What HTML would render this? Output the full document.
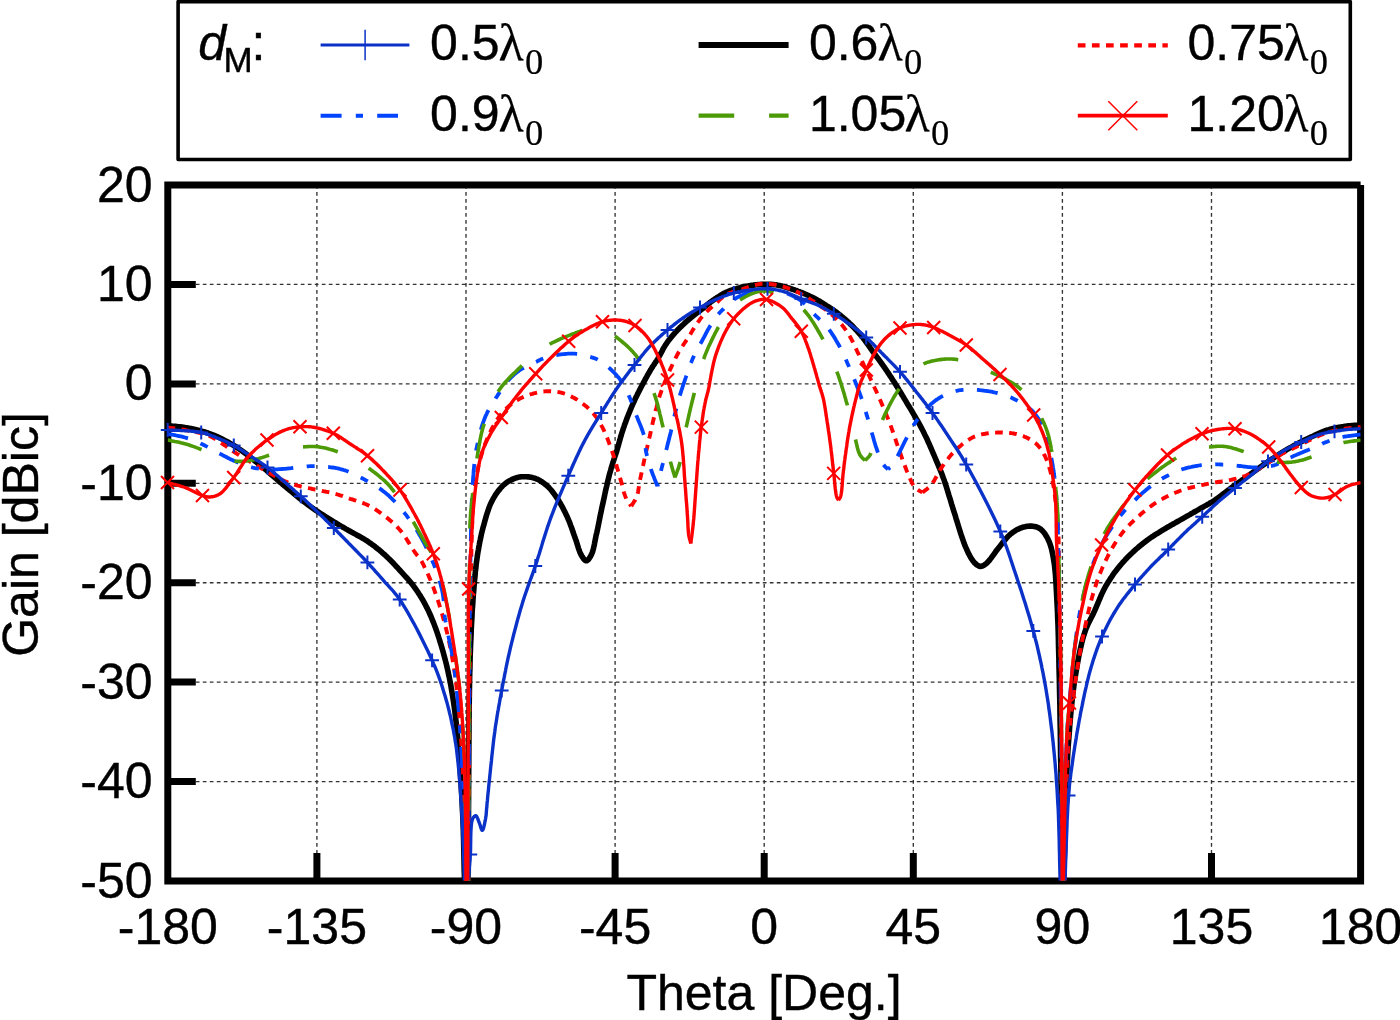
<!DOCTYPE html>
<html><head><meta charset="utf-8"><title>Gain vs Theta</title>
<style>html,body{margin:0;padding:0;background:#fff;}body{width:1400px;height:1020px;overflow:hidden;}svg{display:block;}text{font-family:"Liberation Sans",sans-serif;fill:#000;stroke:#000;stroke-width:0.4px;}.sym{font-family:"Liberation Serif",serif;stroke-width:0.2px;}</style></head><body>
<svg width="1400" height="1020" viewBox="0 0 1400 1020">
<rect x="0" y="0" width="1400" height="1020" fill="#ffffff"/>
<defs><clipPath id="pc"><rect x="167.8" y="185.0" width="1192.8" height="699.3"/></clipPath></defs>
<path d="M316.9 185.0 V881.0 M466.0 185.0 V881.0 M615.1 185.0 V881.0 M764.2 185.0 V881.0 M913.3 185.0 V881.0 M1062.4 185.0 V881.0 M1211.5 185.0 V881.0 M167.8 284.4 H1360.6 M167.8 383.9 H1360.6 M167.8 483.3 H1360.6 M167.8 582.7 H1360.6 M167.8 682.1 H1360.6 M167.8 781.6 H1360.6" fill="none" stroke="#333" stroke-width="1.35" stroke-dasharray="3.7 3.3"/>
<path d="M1360.6 185.0 H167.8 V881.0 H1360.6 V185.0" fill="none" stroke="#000" stroke-width="7" stroke-linejoin="miter" stroke-linecap="butt"/>
<path d="M316.9 881.0 V853.0 M466.0 881.0 V853.0 M615.1 881.0 V853.0 M764.2 881.0 V853.0 M913.3 881.0 V853.0 M1062.4 881.0 V853.0 M1211.5 881.0 V853.0 M167.8 284.4 H195.8 M167.8 383.9 H195.8 M167.8 483.3 H195.8 M167.8 582.7 H195.8 M167.8 682.1 H195.8 M167.8 781.6 H195.8" fill="none" stroke="#000" stroke-width="7"/>
<g clip-path="url(#pc)" fill="none" stroke-linejoin="round">
<path d="M167.5 425.8 L168.9 425.9 L170.4 426.0 L171.8 426.1 L173.2 426.2 L174.6 426.3 L176.1 426.4 L177.5 426.6 L179.0 426.7 L180.4 426.8 L181.9 427.0 L183.4 427.2 L185.0 427.5 L186.9 427.8 L188.9 428.2 L191.0 428.6 L193.1 429.0 L195.2 429.5 L197.3 430.0 L199.4 430.5 L201.6 431.1 L203.7 431.7 L205.8 432.3 L207.9 433.0 L210.0 433.8 L212.1 434.6 L214.2 435.4 L216.4 436.3 L218.5 437.3 L220.6 438.3 L222.6 439.3 L224.7 440.4 L226.8 441.5 L228.9 442.6 L230.9 443.8 L233.0 445.0 L235.0 446.2 L237.1 447.6 L239.3 449.0 L241.4 450.5 L243.5 452.0 L245.6 453.6 L247.6 455.1 L249.7 456.8 L251.8 458.4 L253.8 460.0 L255.9 461.7 L257.9 463.4 L260.0 465.0 L262.1 466.7 L264.2 468.4 L266.3 470.2 L268.4 472.0 L270.4 473.8 L272.5 475.6 L274.6 477.4 L276.7 479.2 L278.7 481.0 L280.8 482.7 L282.9 484.5 L285.0 486.2 L287.1 488.0 L289.1 489.7 L291.2 491.4 L293.3 493.1 L295.3 494.8 L297.4 496.5 L299.5 498.2 L301.6 499.9 L303.7 501.5 L305.8 503.1 L307.9 504.7 L310.0 506.2 L312.1 507.7 L314.2 509.2 L316.3 510.7 L318.5 512.1 L320.7 513.5 L322.8 514.9 L325.0 516.3 L327.1 517.6 L329.2 518.9 L331.2 520.1 L333.1 521.3 L335.0 522.5 L336.4 523.3 L337.7 524.1 L339.0 524.9 L340.2 525.6 L341.4 526.3 L342.6 527.0 L343.8 527.7 L345.0 528.4 L346.2 529.1 L347.5 529.8 L348.7 530.5 L350.0 531.2 L351.4 532.1 L352.8 532.8 L354.3 533.6 L355.8 534.4 L357.2 535.2 L358.7 536.0 L360.2 536.8 L361.7 537.7 L363.2 538.5 L364.6 539.4 L366.1 540.3 L367.5 541.2 L369.0 542.3 L370.5 543.3 L372.0 544.4 L373.5 545.5 L375.0 546.6 L376.4 547.8 L377.9 549.0 L379.4 550.1 L380.8 551.3 L382.2 552.6 L383.6 553.8 L385.0 555.0 L386.3 556.2 L387.6 557.5 L388.9 558.7 L390.2 560.0 L391.4 561.2 L392.7 562.5 L393.9 563.8 L395.1 565.2 L396.3 566.5 L397.6 567.8 L398.8 569.2 L400.0 570.5 L401.3 571.9 L402.6 573.3 L403.8 574.7 L405.1 576.1 L406.4 577.5 L407.7 578.9 L408.9 580.3 L410.2 581.8 L411.4 583.3 L412.6 584.8 L413.8 586.4 L415.0 588.0 L416.3 589.8 L417.5 591.6 L418.7 593.5 L419.9 595.3 L421.1 597.3 L422.3 599.2 L423.4 601.2 L424.5 603.2 L425.6 605.3 L426.7 607.4 L427.8 609.6 L428.9 611.8 L430.1 614.5 L431.3 617.2 L432.4 620.0 L433.6 622.9 L434.7 625.9 L435.8 628.8 L436.9 631.9 L437.9 634.9 L438.9 638.0 L439.9 641.2 L440.9 644.3 L441.8 647.4 L442.8 650.7 L443.7 654.1 L444.6 657.5 L445.5 660.9 L446.4 664.4 L447.2 667.9 L448.0 671.4 L448.7 674.9 L449.5 678.5 L450.2 682.1 L450.9 685.8 L451.5 689.5 L452.2 693.6 L452.9 697.7 L453.5 701.8 L454.1 705.9 L454.7 710.1 L455.2 714.3 L455.7 718.6 L456.2 723.0 L456.6 727.4 L457.1 732.0 L457.6 736.6 L458.0 741.3 L458.5 747.2 L459.0 753.4 L459.5 759.8 L460.0 766.3 L460.4 773.0 L460.8 779.7 L461.2 786.4 L461.6 793.1 L462.0 799.8 L462.3 806.3 L462.6 812.8 L462.9 819.0 L463.1 824.3 L463.3 829.6 L463.4 834.8 L463.6 840.0 L463.7 845.1 L463.8 850.2 L463.9 855.2 L464.0 860.2 L464.1 865.3 L464.2 870.3 L464.4 875.4 L464.5 880.5" stroke="#000000" stroke-width="5.6"/>
<path d="M468.2 881.0 L468.3 864.3 L468.4 846.9 L468.5 829.2 L468.5 811.2 L468.6 793.2 L468.7 775.5 L468.8 758.1 L468.9 741.4 L469.0 725.5 L469.1 710.7 L469.3 697.1 L469.5 685.0 L469.6 679.2 L469.7 673.8 L469.9 668.7 L470.0 663.8 L470.1 659.2 L470.2 654.8 L470.4 650.6 L470.5 646.4 L470.7 642.3 L470.9 638.3 L471.1 634.2 L471.2 630.0 L471.4 626.4 L471.6 622.9 L471.8 619.5 L472.0 616.1 L472.1 612.7 L472.3 609.4 L472.6 606.1 L472.8 602.9 L473.0 599.7 L473.2 596.4 L473.5 593.2 L473.8 590.0 L474.0 587.0 L474.3 584.0 L474.5 581.0 L474.8 578.0 L475.1 575.1 L475.3 572.2 L475.7 569.3 L476.0 566.4 L476.3 563.5 L476.7 560.6 L477.1 557.8 L477.5 555.0 L477.9 552.4 L478.4 549.8 L478.8 547.2 L479.3 544.7 L479.7 542.2 L480.3 539.6 L480.8 537.1 L481.3 534.7 L481.9 532.2 L482.5 529.8 L483.1 527.4 L483.8 525.0 L484.4 522.8 L485.0 520.6 L485.6 518.4 L486.2 516.2 L486.9 514.0 L487.6 511.9 L488.3 509.8 L489.0 507.7 L489.8 505.7 L490.7 503.7 L491.6 501.8 L492.5 500.0 L493.4 498.4 L494.3 496.9 L495.2 495.3 L496.2 493.8 L497.2 492.4 L498.3 490.9 L499.4 489.6 L500.5 488.3 L501.6 487.0 L502.7 485.8 L503.8 484.8 L505.0 483.8 L506.0 483.0 L507.0 482.3 L508.0 481.6 L509.1 481.0 L510.2 480.4 L511.2 479.9 L512.3 479.4 L513.4 478.9 L514.4 478.5 L515.5 478.1 L516.5 477.8 L517.5 477.5 L518.3 477.3 L519.0 477.1 L519.7 477.0 L520.5 476.9 L521.2 476.8 L521.9 476.7 L522.6 476.7 L523.3 476.7 L524.1 476.7 L524.8 476.7 L525.5 476.7 L526.2 476.8 L527.1 476.8 L527.9 476.9 L528.7 476.9 L529.5 477.0 L530.4 477.2 L531.2 477.3 L532.1 477.5 L532.9 477.7 L533.8 477.9 L534.6 478.1 L535.4 478.4 L536.2 478.8 L537.2 479.2 L538.2 479.6 L539.1 480.1 L540.1 480.7 L541.1 481.3 L542.0 481.9 L543.0 482.6 L543.9 483.3 L544.8 484.0 L545.7 484.7 L546.6 485.5 L547.5 486.2 L548.4 487.1 L549.3 488.0 L550.2 489.0 L551.1 490.0 L551.9 491.0 L552.7 492.0 L553.5 493.1 L554.3 494.2 L555.1 495.3 L555.9 496.4 L556.7 497.6 L557.5 498.8 L558.4 500.1 L559.3 501.6 L560.2 503.1 L561.0 504.6 L561.9 506.2 L562.8 507.8 L563.6 509.4 L564.4 511.0 L565.2 512.6 L566.0 514.3 L566.8 515.9 L567.5 517.5 L568.2 519.1 L568.9 520.8 L569.6 522.4 L570.2 524.1 L570.8 525.8 L571.5 527.5 L572.1 529.2 L572.7 530.9 L573.2 532.6 L573.8 534.2 L574.4 535.9 L575.0 537.5 L575.5 539.0 L576.1 540.6 L576.6 542.2 L577.1 543.8 L577.6 545.4 L578.1 547.0 L578.5 548.5 L579.1 550.0 L579.6 551.4 L580.1 552.7 L580.7 553.9 L581.2 555.0 L581.6 555.7 L582.0 556.3 L582.4 557.0 L582.9 557.7 L583.3 558.3 L583.7 558.9 L584.1 559.4 L584.6 559.8 L585.0 560.2 L585.4 560.5 L585.8 560.7 L586.2 560.8 L586.7 560.7 L587.1 560.5 L587.5 560.2 L588.0 559.9 L588.4 559.4 L588.8 558.9 L589.3 558.3 L589.7 557.7 L590.1 557.0 L590.5 556.4 L590.9 555.7 L591.2 555.0 L591.8 553.8 L592.3 552.5 L592.8 551.0 L593.2 549.5 L593.6 547.8 L594.0 546.1 L594.4 544.3 L594.7 542.5 L595.1 540.6 L595.5 538.7 L595.8 536.9 L596.2 535.0 L596.8 532.7 L597.3 530.4 L597.8 528.0 L598.3 525.5 L598.8 523.0 L599.3 520.5 L599.8 517.9 L600.3 515.3 L600.9 512.7 L601.4 510.1 L601.9 507.6 L602.5 505.0 L603.1 502.3 L603.7 499.6 L604.3 496.8 L604.9 494.0 L605.5 491.2 L606.1 488.4 L606.8 485.7 L607.4 482.9 L608.0 480.2 L608.7 477.6 L609.3 475.0 L610.0 472.5 L610.6 470.5 L611.1 468.5 L611.7 466.5 L612.3 464.6 L612.9 462.7 L613.5 460.8 L614.1 459.0 L614.7 457.2 L615.3 455.4 L615.9 453.6 L616.5 451.8 L617.0 450.0 L617.5 448.4 L617.9 446.8 L618.4 445.2 L618.8 443.7 L619.2 442.1 L619.7 440.6 L620.1 439.1 L620.5 437.5 L621.0 436.0 L621.4 434.5 L621.9 432.9 L622.4 431.4 L622.9 429.8 L623.4 428.3 L624.0 426.7 L624.5 425.1 L625.1 423.5 L625.7 421.9 L626.3 420.3 L626.8 418.8 L627.4 417.2 L628.0 415.7 L628.6 414.2 L629.2 412.7 L629.8 411.3 L630.3 410.0 L630.9 408.7 L631.4 407.3 L632.0 406.0 L632.6 404.7 L633.2 403.4 L633.8 402.1 L634.3 400.9 L634.9 399.6 L635.5 398.3 L636.1 397.1 L636.7 395.9 L637.2 394.8 L637.8 393.7 L638.3 392.6 L638.9 391.5 L639.4 390.4 L640.0 389.3 L640.6 388.2 L641.1 387.1 L641.7 386.0 L642.3 384.9 L642.9 383.8 L643.5 382.6 L644.2 381.4 L644.8 380.2 L645.5 379.0 L646.1 377.8 L646.8 376.6 L647.4 375.4 L648.1 374.2 L648.8 373.1 L649.5 371.9 L650.1 370.7 L650.8 369.6 L651.4 368.6 L652.1 367.5 L652.7 366.5 L653.4 365.5 L654.1 364.5 L654.7 363.5 L655.4 362.5 L656.0 361.5 L656.7 360.6 L657.3 359.5 L658.0 358.5 L658.6 357.5 L659.2 356.4 L659.8 355.3 L660.4 354.2 L661.0 353.1 L661.6 352.0 L662.2 350.9 L662.7 349.7 L663.3 348.6 L663.9 347.5 L664.6 346.4 L665.2 345.4 L665.9 344.3 L666.6 343.3 L667.3 342.2 L668.1 341.2 L668.8 340.2 L669.6 339.2 L670.4 338.2 L671.2 337.2 L672.0 336.3 L672.8 335.3 L673.6 334.4 L674.5 333.4 L675.3 332.5 L676.1 331.6 L676.9 330.7 L677.8 329.8 L678.6 329.0 L679.5 328.1 L680.3 327.3 L681.2 326.4 L682.1 325.6 L682.9 324.8 L683.8 324.0 L684.6 323.2 L685.5 322.4 L686.3 321.7 L687.1 321.0 L687.9 320.3 L688.7 319.6 L689.5 318.9 L690.2 318.3 L691.0 317.6 L691.8 317.0 L692.6 316.4 L693.4 315.7 L694.1 315.1 L694.9 314.5 L695.6 314.0 L696.2 313.4 L696.9 312.9 L697.6 312.4 L698.2 311.9 L698.9 311.4 L699.5 311.0 L700.1 310.5 L700.8 310.0 L701.4 309.5 L702.1 309.0 L702.7 308.5 L703.3 308.0 L703.9 307.5 L704.5 307.0 L705.1 306.5 L705.7 306.0 L706.3 305.5 L706.9 305.0 L707.5 304.5 L708.1 304.0 L708.8 303.5 L709.4 303.0 L710.0 302.5 L710.6 302.0 L711.3 301.5 L711.9 301.1 L712.6 300.6 L713.3 300.1 L713.9 299.7 L714.6 299.2 L715.3 298.8 L716.0 298.3 L716.6 297.9 L717.3 297.4 L718.0 297.0 L718.7 296.6 L719.3 296.2 L720.0 295.7 L720.6 295.3 L721.3 294.9 L722.0 294.5 L722.6 294.1 L723.3 293.7 L724.0 293.3 L724.8 292.9 L725.5 292.6 L726.3 292.2 L727.3 291.8 L728.4 291.3 L729.5 290.9 L730.6 290.5 L731.8 290.1 L733.0 289.7 L734.1 289.3 L735.3 288.9 L736.5 288.6 L737.7 288.2 L738.9 287.9 L740.0 287.6 L741.0 287.3 L742.0 287.1 L743.1 286.9 L744.1 286.6 L745.1 286.4 L746.1 286.2 L747.1 286.1 L748.1 285.9 L749.1 285.7 L750.1 285.6 L751.0 285.4 L752.0 285.3 L752.9 285.2 L753.7 285.1 L754.5 285.0 L755.3 284.9 L756.1 284.8 L757.0 284.7 L757.8 284.6 L758.6 284.6 L759.4 284.5 L760.3 284.5 L761.1 284.4 L762.0 284.4 L763.1 284.4 L764.2 284.3 L765.3 284.3 L766.4 284.3 L767.6 284.3 L768.8 284.3 L769.9 284.4 L771.1 284.4 L772.3 284.5 L773.4 284.5 L774.6 284.7 L775.7 284.8 L776.8 285.0 L777.9 285.2 L779.0 285.4 L780.1 285.6 L781.1 285.9 L782.2 286.1 L783.3 286.4 L784.3 286.7 L785.4 287.0 L786.5 287.4 L787.5 287.7 L788.6 288.0 L789.7 288.3 L790.7 288.7 L791.8 289.0 L792.9 289.4 L794.0 289.7 L795.0 290.1 L796.1 290.5 L797.2 290.9 L798.2 291.3 L799.3 291.7 L800.3 292.1 L801.4 292.5 L802.5 292.9 L803.6 293.4 L804.6 293.8 L805.7 294.3 L806.8 294.7 L807.9 295.2 L809.0 295.7 L810.0 296.2 L811.1 296.7 L812.2 297.2 L813.2 297.8 L814.3 298.3 L815.4 298.9 L816.5 299.5 L817.5 300.1 L818.6 300.7 L819.7 301.3 L820.7 302.0 L821.8 302.6 L822.9 303.3 L823.9 304.0 L825.0 304.6 L826.0 305.3 L827.1 306.0 L828.2 306.7 L829.3 307.4 L830.4 308.1 L831.4 308.8 L832.5 309.6 L833.6 310.3 L834.7 311.1 L835.8 311.8 L836.8 312.6 L837.9 313.4 L838.9 314.2 L840.0 315.0 L841.1 315.9 L842.2 316.8 L843.3 317.7 L844.4 318.7 L845.5 319.6 L846.6 320.6 L847.7 321.6 L848.8 322.6 L849.8 323.6 L850.9 324.6 L851.9 325.6 L852.9 326.6 L853.8 327.5 L854.7 328.5 L855.6 329.4 L856.5 330.3 L857.3 331.3 L858.2 332.2 L859.0 333.2 L859.8 334.1 L860.6 335.1 L861.5 336.1 L862.3 337.1 L863.1 338.1 L864.0 339.2 L864.9 340.4 L865.7 341.5 L866.6 342.7 L867.4 343.9 L868.3 345.1 L869.1 346.3 L870.0 347.5 L870.8 348.7 L871.7 349.9 L872.5 351.1 L873.4 352.3 L874.3 353.5 L875.1 354.6 L876.0 355.8 L876.8 357.0 L877.7 358.1 L878.6 359.3 L879.4 360.5 L880.3 361.6 L881.1 362.8 L882.0 364.0 L882.9 365.2 L883.7 366.4 L884.6 367.7 L885.4 368.9 L886.3 370.2 L887.2 371.5 L888.0 372.8 L888.9 374.0 L889.7 375.3 L890.6 376.6 L891.5 377.9 L892.3 379.3 L893.2 380.6 L894.0 381.9 L894.9 383.2 L895.7 384.6 L896.5 385.9 L897.4 387.2 L898.2 388.5 L899.0 389.9 L899.8 391.2 L900.7 392.6 L901.5 394.0 L902.4 395.5 L903.4 397.0 L904.3 398.6 L905.7 400.9 L907.1 403.3 L908.6 405.8 L910.2 408.4 L911.8 411.0 L913.4 413.8 L915.0 416.5 L916.6 419.3 L918.2 422.0 L919.7 424.7 L921.1 427.4 L922.5 430.0 L923.7 432.3 L924.8 434.7 L926.0 437.0 L927.1 439.3 L928.1 441.7 L929.2 444.0 L930.2 446.3 L931.2 448.6 L932.1 450.8 L933.1 453.1 L934.1 455.3 L935.0 457.5 L935.8 459.4 L936.6 461.3 L937.4 463.2 L938.2 465.0 L938.9 466.8 L939.7 468.6 L940.4 470.4 L941.2 472.3 L941.9 474.1 L942.6 476.0 L943.3 478.0 L944.1 480.0 L944.9 482.5 L945.8 485.0 L946.6 487.6 L947.4 490.2 L948.2 492.9 L949.0 495.6 L949.9 498.3 L950.7 501.1 L951.5 503.8 L952.4 506.6 L953.2 509.4 L954.1 512.1 L955.1 515.1 L956.0 518.3 L957.0 521.4 L958.0 524.7 L959.0 528.0 L960.0 531.2 L961.0 534.4 L962.1 537.5 L963.1 540.4 L964.1 543.3 L965.1 545.9 L966.2 548.3 L966.8 549.8 L967.5 551.2 L968.1 552.6 L968.8 553.9 L969.4 555.2 L970.1 556.4 L970.8 557.6 L971.4 558.7 L972.1 559.7 L972.8 560.7 L973.5 561.5 L974.2 562.4 L974.7 562.9 L975.2 563.4 L975.7 563.8 L976.1 564.3 L976.6 564.7 L977.2 565.1 L977.7 565.4 L978.2 565.7 L978.7 566.0 L979.2 566.2 L979.7 566.3 L980.2 566.4 L980.7 566.4 L981.2 566.3 L981.7 566.2 L982.2 566.1 L982.7 565.9 L983.2 565.7 L983.7 565.4 L984.2 565.1 L984.7 564.7 L985.2 564.4 L985.7 564.0 L986.2 563.6 L987.2 562.7 L988.1 561.8 L989.1 560.6 L990.1 559.4 L991.1 558.1 L992.1 556.7 L993.1 555.3 L994.2 553.8 L995.2 552.4 L996.2 550.9 L997.3 549.6 L998.3 548.3 L999.3 547.1 L1000.3 545.8 L1001.2 544.6 L1002.2 543.3 L1003.2 542.0 L1004.2 540.8 L1005.2 539.6 L1006.2 538.4 L1007.2 537.3 L1008.2 536.2 L1009.3 535.2 L1010.3 534.2 L1011.3 533.5 L1012.3 532.7 L1013.3 532.0 L1014.3 531.4 L1015.3 530.7 L1016.3 530.1 L1017.3 529.6 L1018.3 529.1 L1019.4 528.6 L1020.4 528.1 L1021.4 527.8 L1022.4 527.4 L1023.2 527.1 L1024.1 526.9 L1025.0 526.7 L1025.8 526.5 L1026.7 526.4 L1027.5 526.3 L1028.4 526.2 L1029.2 526.1 L1030.0 526.1 L1030.8 526.1 L1031.6 526.1 L1032.4 526.2 L1033.2 526.3 L1033.9 526.4 L1034.6 526.5 L1035.3 526.7 L1035.9 526.8 L1036.6 527.0 L1037.3 527.3 L1037.9 527.5 L1038.6 527.8 L1039.2 528.2 L1039.9 528.6 L1040.5 529.0 L1041.2 529.6 L1042.0 530.3 L1042.7 531.1 L1043.5 532.0 L1044.2 532.9 L1044.9 533.8 L1045.5 534.8 L1046.2 535.8 L1046.8 536.9 L1047.4 538.0 L1048.0 539.1 L1048.5 540.3 L1049.1 541.7 L1049.7 543.1 L1050.2 544.6 L1050.7 546.2 L1051.2 547.8 L1051.6 549.4 L1052.0 551.1 L1052.4 552.9 L1052.7 554.6 L1053.1 556.5 L1053.4 558.4 L1053.7 560.3 L1054.2 563.2 L1054.6 566.1 L1054.9 569.1 L1055.2 572.2 L1055.5 575.4 L1055.7 578.7 L1055.9 582.1 L1056.1 585.6 L1056.3 589.2 L1056.5 592.9 L1056.7 596.6 L1056.9 600.5 L1057.2 606.2 L1057.5 612.2 L1057.7 618.4 L1058.0 624.9 L1058.2 631.6 L1058.4 638.4 L1058.5 645.3 L1058.7 652.4 L1058.9 659.5 L1059.0 666.6 L1059.2 673.8 L1059.4 680.9 L1059.5 688.8 L1059.7 697.0 L1059.9 705.2 L1060.0 713.5 L1060.1 721.9 L1060.3 730.4 L1060.4 738.9 L1060.5 747.4 L1060.6 756.0 L1060.8 764.5 L1060.9 772.9 L1061.0 781.3 L1061.1 789.6 L1061.1 797.9 L1061.2 806.1 L1061.3 814.4 L1061.4 822.7 L1061.4 830.9 L1061.5 839.2 L1061.5 847.5 L1061.6 855.7 L1061.6 864.0 L1061.7 872.2 L1061.8 880.5" stroke="#000000" stroke-width="5.6"/>
<path d="M1063.8 880.5 L1063.9 873.9 L1064.1 867.2 L1064.2 860.5 L1064.4 853.7 L1064.5 847.0 L1064.7 840.3 L1064.9 833.6 L1065.0 827.0 L1065.2 820.4 L1065.4 813.9 L1065.6 807.6 L1065.8 801.4 L1066.0 796.1 L1066.2 790.9 L1066.3 785.7 L1066.5 780.7 L1066.7 775.7 L1066.9 770.7 L1067.1 765.8 L1067.4 760.9 L1067.6 756.0 L1067.9 751.1 L1068.2 746.1 L1068.6 741.1 L1069.0 736.1 L1069.4 731.0 L1069.7 725.9 L1070.2 720.8 L1070.6 715.6 L1071.1 710.5 L1071.6 705.5 L1072.1 700.4 L1072.7 695.4 L1073.3 690.5 L1073.9 685.6 L1074.6 680.9 L1075.3 676.6 L1076.0 672.3 L1076.7 668.0 L1077.4 663.7 L1078.2 659.4 L1079.0 655.2 L1079.9 651.1 L1080.8 647.1 L1081.7 643.2 L1082.6 639.5 L1083.6 636.0 L1084.7 632.7 L1085.4 630.4 L1086.2 628.3 L1087.1 626.3 L1087.9 624.4 L1088.8 622.5 L1089.7 620.7 L1090.6 618.9 L1091.5 617.2 L1092.4 615.4 L1093.3 613.7 L1094.1 611.9 L1095.0 610.0 L1095.8 608.1 L1096.6 606.2 L1097.4 604.3 L1098.2 602.4 L1099.0 600.5 L1099.8 598.6 L1100.6 596.7 L1101.4 594.8 L1102.3 592.9 L1103.2 591.1 L1104.1 589.3 L1105.0 587.5 L1105.9 585.8 L1106.9 584.2 L1107.9 582.6 L1108.9 581.0 L1109.9 579.4 L1110.9 577.8 L1112.0 576.3 L1113.0 574.7 L1114.1 573.2 L1115.2 571.7 L1116.4 570.2 L1117.5 568.8 L1118.7 567.3 L1119.8 565.9 L1121.0 564.5 L1122.3 563.0 L1123.5 561.7 L1124.8 560.3 L1126.0 558.9 L1127.3 557.6 L1128.6 556.3 L1129.9 555.0 L1131.2 553.7 L1132.5 552.5 L1133.7 551.4 L1134.9 550.2 L1136.1 549.1 L1137.4 548.1 L1138.6 547.0 L1139.8 546.0 L1141.1 545.0 L1142.3 544.0 L1143.6 543.0 L1144.9 542.0 L1146.2 541.0 L1147.5 540.0 L1148.9 539.0 L1150.3 538.0 L1151.7 537.0 L1153.2 536.1 L1154.6 535.1 L1156.1 534.2 L1157.6 533.3 L1159.1 532.4 L1160.6 531.4 L1162.0 530.5 L1163.5 529.6 L1165.0 528.8 L1166.4 527.9 L1167.9 527.0 L1169.4 526.2 L1170.8 525.3 L1172.3 524.5 L1173.7 523.7 L1175.2 522.9 L1176.7 522.0 L1178.1 521.2 L1179.6 520.4 L1181.0 519.6 L1182.5 518.8 L1184.0 517.9 L1185.4 517.1 L1186.9 516.2 L1188.4 515.4 L1189.9 514.6 L1191.3 513.7 L1192.8 512.9 L1194.3 512.0 L1195.7 511.2 L1197.2 510.4 L1198.6 509.6 L1200.0 508.8 L1201.3 508.0 L1202.6 507.3 L1203.8 506.6 L1205.1 505.9 L1206.4 505.2 L1207.6 504.5 L1208.8 503.8 L1210.1 503.0 L1211.3 502.3 L1212.5 501.6 L1213.8 500.8 L1215.0 500.0 L1216.3 499.1 L1217.5 498.3 L1218.8 497.4 L1220.0 496.4 L1221.2 495.5 L1222.5 494.5 L1223.7 493.6 L1224.9 492.6 L1226.2 491.6 L1227.4 490.7 L1228.7 489.7 L1230.0 488.8 L1231.4 487.7 L1232.8 486.7 L1234.3 485.7 L1235.7 484.6 L1237.2 483.6 L1238.7 482.5 L1240.1 481.5 L1241.6 480.4 L1243.1 479.4 L1244.6 478.3 L1246.0 477.3 L1247.5 476.2 L1249.0 475.2 L1250.4 474.1 L1251.9 473.1 L1253.4 472.0 L1254.9 471.0 L1256.3 469.9 L1257.8 468.8 L1259.3 467.8 L1260.7 466.8 L1262.2 465.7 L1263.6 464.7 L1265.0 463.8 L1266.3 462.9 L1267.6 462.0 L1268.8 461.1 L1270.1 460.3 L1271.3 459.4 L1272.5 458.6 L1273.8 457.8 L1275.0 457.0 L1276.3 456.1 L1277.5 455.3 L1278.7 454.5 L1280.0 453.8 L1281.2 453.0 L1282.5 452.2 L1283.7 451.5 L1285.0 450.7 L1286.2 450.0 L1287.5 449.2 L1288.7 448.5 L1290.0 447.8 L1291.2 447.1 L1292.5 446.4 L1293.7 445.7 L1295.0 445.0 L1296.2 444.3 L1297.5 443.7 L1298.7 443.0 L1299.9 442.4 L1301.2 441.8 L1302.4 441.2 L1303.6 440.5 L1304.9 439.9 L1306.1 439.3 L1307.4 438.7 L1308.7 438.1 L1310.0 437.5 L1311.4 436.8 L1312.8 436.2 L1314.3 435.5 L1315.7 434.8 L1317.2 434.2 L1318.6 433.5 L1320.1 432.8 L1321.6 432.2 L1323.0 431.6 L1324.5 431.0 L1326.0 430.5 L1327.5 430.0 L1328.9 429.6 L1330.4 429.1 L1331.9 428.8 L1333.3 428.4 L1334.8 428.1 L1336.3 427.8 L1337.7 427.5 L1339.2 427.2 L1340.7 426.9 L1342.1 426.7 L1343.6 426.5 L1345.0 426.2 L1346.3 426.1 L1347.7 425.9 L1349.0 425.8 L1350.3 425.7 L1351.6 425.6 L1352.9 425.5 L1354.2 425.4 L1355.5 425.3 L1356.8 425.3 L1358.1 425.2 L1359.4 425.1 L1360.8 425.0" stroke="#000000" stroke-width="5.6"/>
</g>
<g clip-path="url(#pc)" fill="none" stroke-linejoin="round">
<path d="M167.5 427.5 L168.9 427.7 L170.4 427.9 L171.8 428.1 L173.2 428.2 L174.6 428.4 L176.1 428.6 L177.5 428.8 L179.0 429.0 L180.4 429.2 L181.9 429.4 L183.4 429.7 L185.0 430.0 L186.9 430.4 L188.9 430.7 L191.0 431.1 L193.1 431.5 L195.2 431.9 L197.3 432.4 L199.5 432.9 L201.6 433.4 L203.8 434.0 L205.9 434.7 L208.0 435.4 L210.0 436.2 L212.2 437.3 L214.3 438.4 L216.4 439.6 L218.5 441.0 L220.5 442.4 L222.6 443.8 L224.7 445.3 L226.7 446.8 L228.8 448.3 L230.8 449.7 L232.9 451.2 L235.0 452.5 L237.1 453.8 L239.1 455.1 L241.2 456.4 L243.3 457.6 L245.4 458.9 L247.5 460.1 L249.5 461.4 L251.6 462.6 L253.7 463.9 L255.8 465.1 L257.9 466.3 L260.0 467.5 L262.1 468.7 L264.2 469.9 L266.4 471.2 L268.5 472.5 L270.7 473.7 L272.8 474.9 L275.0 476.1 L277.1 477.3 L279.1 478.4 L281.2 479.4 L283.1 480.4 L285.0 481.2 L286.4 481.8 L287.7 482.4 L289.0 482.9 L290.2 483.3 L291.5 483.7 L292.7 484.1 L293.9 484.5 L295.1 484.9 L296.3 485.2 L297.5 485.6 L298.8 485.9 L300.0 486.2 L301.2 486.6 L302.5 486.9 L303.7 487.2 L304.9 487.4 L306.1 487.7 L307.4 488.0 L308.6 488.2 L309.8 488.4 L311.1 488.7 L312.4 489.0 L313.7 489.2 L315.0 489.5 L316.6 489.8 L318.2 490.2 L319.9 490.5 L321.6 490.8 L323.3 491.2 L325.0 491.5 L326.7 491.8 L328.5 492.2 L330.2 492.6 L331.8 492.9 L333.4 493.3 L335.0 493.8 L336.3 494.1 L337.6 494.5 L338.9 494.9 L340.1 495.3 L341.4 495.7 L342.6 496.1 L343.8 496.6 L345.0 497.0 L346.2 497.4 L347.5 497.9 L348.7 498.3 L350.0 498.8 L351.4 499.2 L352.9 499.7 L354.3 500.2 L355.8 500.6 L357.2 501.1 L358.7 501.6 L360.2 502.1 L361.7 502.6 L363.2 503.1 L364.6 503.7 L366.1 504.3 L367.5 505.0 L369.0 505.8 L370.5 506.6 L372.0 507.4 L373.5 508.3 L375.0 509.2 L376.5 510.2 L377.9 511.1 L379.4 512.1 L380.8 513.1 L382.2 514.2 L383.6 515.2 L385.0 516.2 L386.3 517.3 L387.7 518.3 L389.0 519.4 L390.2 520.4 L391.5 521.5 L392.8 522.6 L394.0 523.8 L395.2 524.9 L396.4 526.1 L397.6 527.4 L398.8 528.7 L400.0 530.0 L401.4 531.7 L402.7 533.5 L404.1 535.4 L405.4 537.4 L406.8 539.5 L408.1 541.6 L409.3 543.6 L410.6 545.7 L411.8 547.6 L412.9 549.4 L414.0 551.0 L415.0 552.5 L415.6 553.3 L416.1 553.9 L416.6 554.6 L417.1 555.1 L417.5 555.7 L418.0 556.2 L418.4 556.7 L418.9 557.3 L419.3 557.9 L419.8 558.5 L420.3 559.2 L420.8 560.0 L421.7 561.5 L422.6 563.1 L423.5 564.9 L424.4 566.8 L425.4 568.7 L426.4 570.8 L427.4 572.9 L428.3 575.1 L429.3 577.4 L430.3 579.7 L431.2 582.0 L432.1 584.3 L433.3 587.2 L434.4 590.3 L435.5 593.5 L436.7 596.8 L437.8 600.1 L438.9 603.5 L440.0 607.0 L441.1 610.5 L442.1 614.1 L443.1 617.6 L444.1 621.2 L445.1 624.7 L446.0 628.6 L447.0 632.4 L447.9 636.3 L448.8 640.2 L449.6 644.2 L450.4 648.2 L451.2 652.2 L452.0 656.3 L452.7 660.4 L453.4 664.6 L454.1 668.9 L454.8 673.3 L455.5 678.5 L456.2 683.9 L456.8 689.3 L457.4 694.9 L458.0 700.5 L458.5 706.3 L459.1 712.0 L459.5 717.8 L460.0 723.7 L460.4 729.5 L460.8 735.4 L461.2 741.3 L461.7 747.6 L462.0 754.0 L462.4 760.5 L462.7 767.1 L463.0 773.7 L463.2 780.3 L463.5 787.0 L463.7 793.5 L463.9 800.0 L464.1 806.5 L464.3 812.8 L464.5 819.0 L464.6 824.3 L464.7 829.6 L464.8 834.8 L464.9 840.0 L465.0 845.1 L465.1 850.2 L465.1 855.2 L465.2 860.2 L465.3 865.3 L465.3 870.3 L465.4 875.4 L465.5 880.5" stroke="#ff0000" stroke-width="3.9" stroke-dasharray="7.7 6.4" stroke-dashoffset="0"/>
<path d="M468.5 881.0 L468.6 865.7 L468.7 850.2 L468.7 834.5 L468.8 818.7 L468.9 802.9 L469.0 787.2 L469.1 771.6 L469.1 756.4 L469.2 741.5 L469.3 727.1 L469.4 713.2 L469.5 700.0 L469.6 690.6 L469.6 681.4 L469.7 672.5 L469.8 663.8 L469.9 655.3 L469.9 647.0 L470.0 638.9 L470.1 630.9 L470.2 623.1 L470.3 615.3 L470.4 607.6 L470.5 600.0 L470.6 593.7 L470.7 587.3 L470.8 581.1 L470.9 574.9 L471.0 568.7 L471.1 562.7 L471.3 556.8 L471.4 551.1 L471.5 545.5 L471.7 540.1 L471.8 535.0 L472.0 530.0 L472.1 526.7 L472.2 523.5 L472.3 520.4 L472.4 517.4 L472.5 514.6 L472.6 511.7 L472.7 509.0 L472.8 506.2 L473.0 503.5 L473.2 500.7 L473.4 497.9 L473.8 495.0 L474.1 492.1 L474.5 489.1 L474.9 486.1 L475.3 483.1 L475.8 480.1 L476.3 477.2 L476.8 474.2 L477.4 471.3 L478.0 468.4 L478.6 465.5 L479.3 462.7 L480.0 460.0 L480.7 457.5 L481.4 455.1 L482.1 452.7 L482.9 450.3 L483.7 448.0 L484.5 445.7 L485.3 443.4 L486.2 441.1 L487.1 438.9 L488.0 436.7 L489.0 434.6 L490.0 432.5 L490.9 430.7 L491.8 428.8 L492.8 427.0 L493.8 425.3 L494.8 423.5 L495.8 421.8 L496.8 420.1 L497.9 418.5 L499.0 416.9 L500.1 415.4 L501.3 413.9 L502.5 412.5 L503.6 411.2 L504.8 410.0 L506.0 408.9 L507.2 407.7 L508.4 406.6 L509.7 405.5 L511.0 404.5 L512.3 403.5 L513.6 402.6 L514.9 401.7 L516.2 400.8 L517.5 400.0 L518.7 399.3 L519.9 398.6 L521.1 398.0 L522.4 397.4 L523.6 396.9 L524.9 396.3 L526.1 395.8 L527.4 395.4 L528.7 394.9 L530.0 394.5 L531.2 394.1 L532.5 393.8 L533.7 393.4 L535.0 393.1 L536.2 392.8 L537.5 392.5 L538.7 392.2 L540.0 392.0 L541.2 391.8 L542.5 391.6 L543.7 391.5 L545.0 391.4 L546.2 391.3 L547.5 391.2 L548.8 391.2 L550.0 391.2 L551.3 391.3 L552.5 391.3 L553.8 391.4 L555.0 391.6 L556.3 391.7 L557.5 391.9 L558.8 392.1 L560.0 392.4 L561.3 392.7 L562.5 393.0 L563.8 393.4 L565.1 393.8 L566.3 394.3 L567.6 394.8 L568.9 395.3 L570.1 395.9 L571.4 396.5 L572.6 397.2 L573.8 397.8 L575.1 398.5 L576.3 399.2 L577.5 400.0 L578.8 400.9 L580.1 401.8 L581.5 402.7 L582.8 403.7 L584.1 404.7 L585.4 405.7 L586.7 406.8 L587.9 407.9 L589.1 409.0 L590.3 410.2 L591.4 411.3 L592.5 412.5 L593.5 413.6 L594.4 414.8 L595.3 415.9 L596.2 417.1 L597.1 418.3 L597.9 419.5 L598.7 420.8 L599.4 422.0 L600.2 423.3 L601.0 424.7 L601.7 426.1 L602.5 427.5 L603.4 429.3 L604.3 431.2 L605.2 433.2 L606.1 435.3 L607.0 437.4 L607.8 439.5 L608.6 441.7 L609.4 443.9 L610.2 446.1 L611.0 448.2 L611.8 450.4 L612.5 452.5 L613.2 454.6 L613.9 456.7 L614.6 458.8 L615.2 460.9 L615.8 463.0 L616.4 465.1 L617.0 467.2 L617.6 469.3 L618.2 471.4 L618.8 473.4 L619.4 475.5 L620.0 477.5 L620.5 479.4 L621.1 481.3 L621.6 483.2 L622.1 485.1 L622.6 487.1 L623.0 489.0 L623.5 490.8 L624.0 492.6 L624.6 494.3 L625.1 495.9 L625.7 497.4 L626.2 498.8 L626.6 499.5 L627.0 500.3 L627.4 501.0 L627.9 501.6 L628.3 502.2 L628.7 502.8 L629.1 503.4 L629.6 503.9 L630.0 504.5 L630.4 505.1 L630.8 505.6 L631.2 506.2" stroke="#ff0000" stroke-width="3.9" stroke-dasharray="7.7 6.4" stroke-dashoffset="0"/>
<path d="M631.2 506.2 L631.7 505.5 L632.2 504.7 L632.7 503.9 L633.2 503.2 L633.6 502.4 L634.1 501.7 L634.6 500.9 L635.1 500.1 L635.5 499.3 L635.9 498.5 L636.3 497.6 L636.7 496.7 L637.1 495.5 L637.5 494.3 L637.8 493.0 L638.1 491.6 L638.3 490.3 L638.5 488.9 L638.8 487.4 L639.0 486.0 L639.2 484.5 L639.4 483.0 L639.7 481.5 L640.0 480.0 L640.4 478.2 L640.8 476.3 L641.2 474.4 L641.6 472.5 L642.0 470.5 L642.4 468.5 L642.8 466.5 L643.3 464.5 L643.7 462.6 L644.1 460.6 L644.6 458.6 L645.0 456.7 L645.4 454.9 L645.8 453.1 L646.2 451.3 L646.6 449.5 L647.1 447.7 L647.5 445.9 L647.9 444.1 L648.3 442.3 L648.7 440.5 L649.1 438.7 L649.6 436.9 L650.0 435.0 L650.5 433.0 L650.9 430.9 L651.4 428.8 L651.9 426.7 L652.3 424.6 L652.8 422.4 L653.3 420.3 L653.8 418.2 L654.3 416.1 L654.8 414.0 L655.3 412.0 L655.8 410.0 L656.3 408.3 L656.7 406.6 L657.1 404.9 L657.6 403.3 L658.0 401.7 L658.5 400.1 L658.9 398.5 L659.4 396.8 L659.9 395.2 L660.5 393.5 L661.1 391.8 L661.7 390.0 L662.6 387.6 L663.5 385.2 L664.6 382.6 L665.7 379.9 L666.8 377.2 L668.0 374.4 L669.2 371.8 L670.3 369.1 L671.5 366.6 L672.6 364.2 L673.6 362.0 L674.6 360.0 L675.2 358.8 L675.7 357.7 L676.3 356.7 L676.8 355.7 L677.3 354.7 L677.8 353.8 L678.3 352.9 L678.8 352.0 L679.4 351.1 L679.9 350.2 L680.4 349.3 L681.0 348.4 L681.6 347.4 L682.2 346.5 L682.9 345.5 L683.5 344.5 L684.2 343.6 L684.8 342.6 L685.5 341.7 L686.1 340.7 L686.8 339.8 L687.4 338.8 L688.1 337.9 L688.7 336.9 L689.3 335.9 L689.9 335.0 L690.5 334.0 L691.1 333.0 L691.6 332.0 L692.2 331.1 L692.8 330.1 L693.4 329.1 L694.0 328.2 L694.6 327.2 L695.2 326.2 L695.8 325.3 L696.4 324.4 L697.1 323.4 L697.7 322.5 L698.4 321.6 L699.1 320.7 L699.7 319.7 L700.4 318.8 L701.1 317.9 L701.8 317.0 L702.6 316.1 L703.3 315.3 L704.1 314.4 L704.9 313.5 L705.8 312.6 L706.7 311.7 L707.6 310.9 L708.5 310.0 L709.4 309.1 L710.4 308.3 L711.3 307.4 L712.3 306.6 L713.2 305.8 L714.2 304.9 L715.1 304.1 L716.0 303.3 L717.0 302.4 L717.9 301.5 L718.8 300.6 L719.7 299.8 L720.7 298.9 L721.6 298.0 L722.6 297.2 L723.5 296.4 L724.5 295.7 L725.6 295.0 L726.6 294.4 L727.6 293.9 L728.7 293.4 L729.7 293.0 L730.8 292.6 L731.8 292.2 L732.9 291.9 L734.1 291.6 L735.2 291.3 L736.3 291.0 L737.5 290.7 L738.8 290.4 L740.0 290.0 L741.7 289.5 L743.4 288.9 L745.1 288.2 L747.0 287.6 L748.8 286.9 L750.7 286.3 L752.6 285.7 L754.6 285.1 L756.6 284.6 L758.5 284.2 L760.5 283.9 L762.5 283.8 L764.7 283.7 L766.9 283.8 L769.2 283.9 L771.5 284.2 L773.9 284.5 L776.2 284.9 L778.6 285.4 L780.9 286.0 L783.2 286.6 L785.5 287.3 L787.8 288.0 L790.0 288.8 L792.2 289.6 L794.4 290.5 L796.5 291.5 L798.7 292.6 L800.8 293.7 L802.9 294.9 L805.0 296.2 L807.0 297.4 L809.1 298.7 L811.1 300.0 L813.1 301.2 L815.0 302.5 L816.8 303.7 L818.6 304.9 L820.4 306.1 L822.1 307.3 L823.9 308.5 L825.6 309.7 L827.3 311.0 L828.9 312.3 L830.5 313.6 L832.1 314.9 L833.6 316.2 L835.0 317.5 L836.2 318.7 L837.4 319.9 L838.5 321.0 L839.6 322.2 L840.7 323.4 L841.7 324.6 L842.7 325.9 L843.7 327.1 L844.6 328.4 L845.6 329.7 L846.6 331.1 L847.5 332.5 L848.6 334.2 L849.6 335.9 L850.6 337.7 L851.6 339.6 L852.6 341.5 L853.5 343.5 L854.4 345.4 L855.4 347.4 L856.3 349.3 L857.2 351.3 L858.1 353.1 L859.0 355.0 L859.8 356.7 L860.7 358.4 L861.5 360.0 L862.3 361.7 L863.1 363.3 L863.9 365.0 L864.7 366.6 L865.5 368.3 L866.3 369.9 L867.1 371.6 L867.9 373.3 L868.8 375.0 L869.6 376.8 L870.5 378.7 L871.3 380.5 L872.2 382.3 L873.0 384.2 L873.9 386.1 L874.7 388.0 L875.6 389.8 L876.5 391.7 L877.3 393.7 L878.2 395.6 L879.0 397.5 L879.9 399.5 L880.8 401.6 L881.7 403.6 L882.5 405.6 L883.4 407.7 L884.3 409.7 L885.2 411.8 L886.1 413.9 L886.9 416.0 L887.8 418.2 L888.7 420.3 L889.5 422.5 L890.4 424.9 L891.3 427.4 L892.2 429.9 L893.1 432.5 L894.0 435.1 L894.9 437.7 L895.8 440.3 L896.6 442.8 L897.5 445.4 L898.3 447.8 L899.2 450.2 L900.0 452.5 L900.7 454.3 L901.3 456.1 L901.9 457.9 L902.5 459.6 L903.1 461.3 L903.7 463.0 L904.4 464.6 L905.0 466.2 L905.6 467.8 L906.2 469.4 L906.8 471.0 L907.5 472.5 L908.1 473.9 L908.7 475.3 L909.2 476.7 L909.8 478.0 L910.4 479.4 L911.0 480.7 L911.6 482.0 L912.2 483.3 L912.9 484.5 L913.6 485.6 L914.3 486.6 L915.0 487.5 L915.6 488.1 L916.2 488.6 L916.8 489.1 L917.4 489.5 L918.0 489.9 L918.6 490.3 L919.3 490.7 L919.9 491.0 L920.6 491.4 L921.2 491.7 L921.9 492.1 L922.5 492.5" stroke="#ff0000" stroke-width="3.9" stroke-dasharray="7.7 6.4" stroke-dashoffset="0"/>
<path d="M922.5 492.5 L923.2 491.9 L924.0 491.3 L924.7 490.7 L925.5 490.2 L926.2 489.6 L927.0 489.0 L927.7 488.4 L928.4 487.8 L929.2 487.2 L929.9 486.5 L930.6 485.8 L931.2 485.0 L932.1 484.0 L932.8 482.9 L933.6 481.7 L934.3 480.4 L935.0 479.1 L935.7 477.8 L936.4 476.5 L937.1 475.2 L937.8 473.8 L938.5 472.5 L939.2 471.2 L940.0 470.0 L940.8 468.8 L941.6 467.6 L942.4 466.4 L943.2 465.2 L944.0 464.0 L944.9 462.9 L945.7 461.7 L946.5 460.6 L947.4 459.5 L948.3 458.4 L949.1 457.3 L950.0 456.2 L950.8 455.3 L951.6 454.4 L952.4 453.5 L953.2 452.7 L954.0 451.8 L954.8 451.0 L955.6 450.2 L956.5 449.4 L957.3 448.6 L958.2 447.8 L959.1 447.0 L960.0 446.2 L961.0 445.4 L961.9 444.6 L962.9 443.8 L964.0 443.0 L965.0 442.2 L966.0 441.5 L967.1 440.7 L968.2 440.0 L969.3 439.3 L970.3 438.7 L971.4 438.1 L972.5 437.5 L973.5 437.0 L974.5 436.6 L975.5 436.2 L976.5 435.8 L977.6 435.5 L978.6 435.2 L979.6 434.9 L980.7 434.7 L981.8 434.4 L982.8 434.2 L983.9 434.0 L985.0 433.8 L986.2 433.5 L987.4 433.3 L988.6 433.2 L989.9 433.0 L991.1 432.9 L992.4 432.8 L993.7 432.7 L994.9 432.6 L996.2 432.6 L997.5 432.5 L998.7 432.5 L1000.0 432.5 L1001.3 432.5 L1002.5 432.5 L1003.8 432.6 L1005.1 432.6 L1006.3 432.7 L1007.6 432.8 L1008.9 432.9 L1010.1 433.0 L1011.4 433.1 L1012.6 433.3 L1013.8 433.5 L1015.0 433.8 L1016.1 434.0 L1017.2 434.3 L1018.3 434.5 L1019.4 434.8 L1020.4 435.2 L1021.5 435.5 L1022.5 435.9 L1023.5 436.2 L1024.6 436.7 L1025.6 437.1 L1026.5 437.5 L1027.5 438.0 L1028.4 438.5 L1029.3 439.0 L1030.2 439.5 L1031.1 440.0 L1031.9 440.5 L1032.8 441.1 L1033.6 441.7 L1034.4 442.3 L1035.2 442.9 L1036.0 443.6 L1036.8 444.3 L1037.5 445.0 L1038.2 445.8 L1039.0 446.6 L1039.7 447.5 L1040.3 448.4 L1041.0 449.3 L1041.6 450.3 L1042.2 451.2 L1042.8 452.2 L1043.4 453.2 L1043.9 454.2 L1044.5 455.2 L1045.0 456.2 L1045.5 457.3 L1046.0 458.4 L1046.5 459.5 L1046.9 460.6 L1047.4 461.7 L1047.8 462.9 L1048.2 464.0 L1048.6 465.2 L1048.9 466.4 L1049.3 467.6 L1049.6 468.8 L1050.0 470.0 L1050.4 471.4 L1050.7 472.8 L1051.1 474.2 L1051.4 475.6 L1051.8 477.1 L1052.1 478.5 L1052.4 480.0 L1052.7 481.5 L1053.0 483.0 L1053.2 484.5 L1053.5 486.0 L1053.8 487.5 L1054.0 489.1 L1054.3 490.8 L1054.5 492.4 L1054.7 494.1 L1054.9 495.8 L1055.1 497.5 L1055.3 499.2 L1055.5 500.9 L1055.7 502.6 L1055.9 504.2 L1056.1 505.9 L1056.2 507.5 L1056.4 509.0 L1056.6 510.3 L1056.7 511.7 L1056.9 513.0 L1057.1 514.3 L1057.2 515.6 L1057.3 516.9 L1057.5 518.3 L1057.6 519.8 L1057.8 521.4 L1057.9 523.1 L1058.0 525.0 L1058.2 529.4 L1058.4 534.3 L1058.6 539.8 L1058.7 545.7 L1058.8 552.0 L1058.9 558.6 L1059.0 565.3 L1059.1 572.3 L1059.2 579.3 L1059.3 586.3 L1059.4 593.2 L1059.5 600.0 L1059.6 607.7 L1059.8 615.5 L1059.9 623.3 L1060.0 631.2 L1060.2 639.2 L1060.3 647.3 L1060.4 655.5 L1060.6 664.0 L1060.7 672.6 L1060.8 681.5 L1060.9 690.6 L1061.0 700.0 L1061.1 713.2 L1061.2 727.1 L1061.3 741.5 L1061.4 756.4 L1061.5 771.6 L1061.6 787.2 L1061.6 802.9 L1061.7 818.7 L1061.8 834.5 L1061.8 850.2 L1061.9 865.7 L1062.0 881.0" stroke="#ff0000" stroke-width="3.9" stroke-dasharray="7.7 6.4" stroke-dashoffset="0"/>
<path d="M1064.6 880.5 L1064.9 868.7 L1065.1 856.7 L1065.4 844.5 L1065.6 832.2 L1065.8 819.9 L1066.0 807.7 L1066.3 795.7 L1066.6 783.9 L1067.0 772.5 L1067.4 761.5 L1068.0 751.0 L1068.6 741.1 L1069.1 734.5 L1069.7 728.1 L1070.3 722.0 L1070.9 716.0 L1071.5 710.2 L1072.2 704.5 L1072.9 699.0 L1073.6 693.6 L1074.4 688.3 L1075.1 683.1 L1075.9 677.9 L1076.6 672.8 L1077.2 668.8 L1077.9 664.9 L1078.5 661.0 L1079.1 657.3 L1079.8 653.6 L1080.4 650.0 L1081.1 646.4 L1081.8 642.8 L1082.4 639.3 L1083.2 635.7 L1083.9 632.2 L1084.7 628.6 L1085.4 625.2 L1086.2 621.7 L1086.9 618.3 L1087.7 614.8 L1088.5 611.4 L1089.3 608.0 L1090.1 604.6 L1091.0 601.3 L1091.9 598.0 L1092.8 594.8 L1093.7 591.6 L1094.7 588.5 L1095.6 585.8 L1096.5 583.1 L1097.4 580.5 L1098.3 577.9 L1099.3 575.4 L1100.3 572.9 L1101.3 570.4 L1102.3 567.9 L1103.4 565.5 L1104.5 563.1 L1105.6 560.7 L1106.8 558.3 L1107.9 556.0 L1109.1 553.8 L1110.3 551.5 L1111.5 549.3 L1112.8 547.0 L1114.1 544.9 L1115.4 542.7 L1116.8 540.5 L1118.2 538.4 L1119.7 536.3 L1121.2 534.3 L1122.8 532.2 L1124.6 530.1 L1126.5 528.0 L1128.5 525.8 L1130.6 523.7 L1132.7 521.6 L1134.8 519.6 L1137.0 517.6 L1139.2 515.7 L1141.3 513.8 L1143.4 512.0 L1145.5 510.3 L1147.5 508.8 L1149.0 507.6 L1150.5 506.5 L1152.0 505.4 L1153.4 504.4 L1154.9 503.4 L1156.3 502.5 L1157.7 501.6 L1159.2 500.8 L1160.6 499.9 L1162.1 499.1 L1163.5 498.3 L1165.0 497.5 L1166.4 496.8 L1167.9 496.0 L1169.3 495.3 L1170.8 494.7 L1172.2 494.0 L1173.7 493.4 L1175.1 492.8 L1176.6 492.2 L1178.1 491.6 L1179.5 491.0 L1181.0 490.5 L1182.5 490.0 L1183.9 489.5 L1185.4 489.1 L1186.9 488.6 L1188.3 488.2 L1189.8 487.9 L1191.3 487.5 L1192.8 487.1 L1194.2 486.8 L1195.7 486.5 L1197.2 486.1 L1198.6 485.8 L1200.0 485.5 L1201.3 485.2 L1202.5 484.9 L1203.8 484.7 L1205.0 484.4 L1206.3 484.2 L1207.5 483.9 L1208.7 483.7 L1210.0 483.4 L1211.2 483.2 L1212.4 483.0 L1213.7 482.7 L1215.0 482.5 L1216.4 482.2 L1217.9 482.0 L1219.3 481.8 L1220.8 481.6 L1222.3 481.3 L1223.8 481.1 L1225.2 480.9 L1226.7 480.6 L1228.2 480.4 L1229.7 480.1 L1231.1 479.8 L1232.5 479.5 L1233.8 479.2 L1235.1 478.9 L1236.3 478.6 L1237.6 478.3 L1238.8 477.9 L1240.1 477.6 L1241.3 477.2 L1242.5 476.9 L1243.8 476.4 L1245.0 476.0 L1246.2 475.5 L1247.5 475.0 L1248.9 474.4 L1250.4 473.6 L1251.9 472.9 L1253.4 472.1 L1254.8 471.2 L1256.3 470.4 L1257.8 469.5 L1259.3 468.6 L1260.7 467.7 L1262.2 466.8 L1263.6 465.9 L1265.0 465.0 L1266.3 464.2 L1267.6 463.3 L1268.8 462.5 L1270.1 461.6 L1271.3 460.8 L1272.6 459.9 L1273.8 459.0 L1275.0 458.2 L1276.2 457.4 L1277.5 456.5 L1278.7 455.8 L1280.0 455.0 L1281.2 454.3 L1282.5 453.6 L1283.7 453.0 L1285.0 452.3 L1286.2 451.7 L1287.5 451.1 L1288.7 450.5 L1290.0 449.9 L1291.2 449.3 L1292.5 448.7 L1293.7 448.1 L1295.0 447.5 L1296.2 446.9 L1297.5 446.2 L1298.7 445.6 L1299.9 445.0 L1301.2 444.4 L1302.4 443.7 L1303.7 443.1 L1304.9 442.5 L1306.2 441.8 L1307.4 441.2 L1308.7 440.6 L1310.0 440.0 L1311.4 439.3 L1312.8 438.7 L1314.3 438.0 L1315.7 437.3 L1317.2 436.7 L1318.6 436.0 L1320.1 435.3 L1321.6 434.7 L1323.0 434.1 L1324.5 433.5 L1326.0 433.0 L1327.5 432.5 L1328.9 432.1 L1330.4 431.7 L1331.9 431.3 L1333.3 430.9 L1334.8 430.6 L1336.3 430.3 L1337.7 430.0 L1339.2 429.7 L1340.7 429.5 L1342.1 429.2 L1343.6 429.0 L1345.0 428.8 L1346.3 428.5 L1347.7 428.4 L1349.0 428.2 L1350.3 428.0 L1351.6 427.9 L1352.9 427.8 L1354.2 427.6 L1355.5 427.5 L1356.8 427.4 L1358.1 427.3 L1359.4 427.1 L1360.8 427.0" stroke="#ff0000" stroke-width="3.9" stroke-dasharray="7.7 6.4" stroke-dashoffset="0"/>
</g>
<g clip-path="url(#pc)" fill="none" stroke-linejoin="round">
<path d="M167.5 433.8 L169.0 434.1 L170.4 434.3 L171.9 434.6 L173.4 434.9 L174.8 435.2 L176.3 435.5 L177.8 435.8 L179.2 436.1 L180.7 436.4 L182.1 436.7 L183.6 437.1 L185.0 437.5 L186.4 437.9 L187.8 438.4 L189.1 438.8 L190.5 439.3 L191.8 439.8 L193.1 440.3 L194.5 440.8 L195.8 441.4 L197.2 441.9 L198.5 442.5 L199.9 443.1 L201.2 443.8 L202.8 444.5 L204.3 445.2 L205.9 446.1 L207.5 446.9 L209.1 447.8 L210.7 448.7 L212.3 449.5 L213.9 450.4 L215.4 451.3 L217.0 452.1 L218.5 453.0 L220.0 453.8 L221.3 454.4 L222.6 455.1 L223.8 455.8 L225.1 456.4 L226.3 457.0 L227.5 457.7 L228.7 458.3 L229.9 458.9 L231.2 459.5 L232.4 460.1 L233.7 460.7 L235.0 461.2 L236.4 461.8 L237.8 462.4 L239.3 463.0 L240.7 463.6 L242.2 464.2 L243.7 464.7 L245.2 465.3 L246.7 465.8 L248.1 466.3 L249.6 466.7 L251.1 467.1 L252.5 467.5 L253.8 467.8 L255.0 468.1 L256.3 468.3 L257.5 468.5 L258.7 468.7 L260.0 468.9 L261.2 469.0 L262.4 469.2 L263.7 469.3 L264.9 469.4 L266.2 469.4 L267.5 469.5 L268.9 469.5 L270.3 469.6 L271.7 469.6 L273.1 469.5 L274.5 469.5 L276.0 469.4 L277.4 469.3 L278.9 469.2 L280.4 469.1 L281.9 469.0 L283.4 468.9 L285.0 468.8 L286.9 468.6 L288.9 468.4 L291.0 468.2 L293.1 467.9 L295.2 467.6 L297.3 467.4 L299.5 467.1 L301.6 466.9 L303.7 466.6 L305.9 466.5 L307.9 466.3 L310.0 466.2 L311.9 466.2 L313.9 466.2 L315.8 466.2 L317.8 466.3 L319.7 466.3 L321.6 466.4 L323.5 466.5 L325.4 466.7 L327.2 466.9 L329.0 467.0 L330.8 467.3 L332.5 467.5 L333.9 467.7 L335.2 467.9 L336.4 468.2 L337.7 468.4 L338.9 468.7 L340.1 469.0 L341.3 469.3 L342.5 469.6 L343.7 470.0 L345.0 470.4 L346.2 470.8 L347.5 471.2 L349.1 471.9 L350.7 472.6 L352.4 473.3 L354.1 474.1 L355.8 474.9 L357.5 475.8 L359.2 476.7 L360.9 477.6 L362.6 478.5 L364.3 479.4 L365.9 480.3 L367.5 481.2 L369.0 482.1 L370.5 483.0 L372.1 483.9 L373.6 484.8 L375.0 485.6 L376.5 486.6 L378.0 487.5 L379.4 488.4 L380.9 489.4 L382.3 490.4 L383.6 491.4 L385.0 492.5 L386.3 493.6 L387.7 494.8 L389.0 495.9 L390.2 497.1 L391.5 498.3 L392.7 499.6 L394.0 500.8 L395.2 502.1 L396.4 503.4 L397.6 504.8 L398.8 506.1 L400.0 507.5 L401.3 509.0 L402.6 510.6 L403.9 512.2 L405.2 513.9 L406.6 515.6 L407.8 517.3 L409.1 519.0 L410.4 520.7 L411.6 522.4 L412.8 524.2 L413.9 525.8 L415.0 527.5 L416.0 529.0 L416.9 530.4 L417.8 531.8 L418.6 533.3 L419.4 534.7 L420.3 536.1 L421.1 537.5 L421.9 539.0 L422.6 540.4 L423.4 541.9 L424.2 543.4 L425.0 545.0 L425.9 546.8 L426.8 548.5 L427.6 550.4 L428.5 552.2 L429.4 554.1 L430.2 555.9 L431.1 557.8 L431.9 559.7 L432.7 561.7 L433.5 563.6 L434.3 565.6 L435.0 567.5 L435.7 569.5 L436.5 571.6 L437.2 573.6 L437.9 575.7 L438.6 577.7 L439.2 579.8 L439.9 581.9 L440.5 584.0 L441.0 586.2 L441.6 588.3 L442.1 590.4 L442.5 592.5 L442.9 594.6 L443.2 596.6 L443.4 598.7 L443.6 600.7 L443.7 602.8 L443.9 604.8 L444.0 606.9 L444.1 609.0 L444.3 611.2 L444.5 613.4 L444.7 615.7 L445.0 618.0 L445.5 621.1 L446.1 624.3 L446.7 627.6 L447.4 631.0 L448.1 634.5 L448.8 638.0 L449.6 641.6 L450.3 645.2 L451.1 648.8 L451.8 652.5 L452.4 656.3 L453.0 660.0 L453.6 664.3 L454.2 668.6 L454.8 673.0 L455.3 677.4 L455.9 681.9 L456.4 686.5 L456.8 691.1 L457.3 695.7 L457.7 700.5 L458.2 705.2 L458.6 710.1 L459.0 715.0 L459.5 720.8 L459.9 726.7 L460.3 732.8 L460.6 738.9 L461.0 745.0 L461.3 751.3 L461.6 757.6 L461.9 764.0 L462.2 770.5 L462.5 776.9 L462.7 783.5 L463.0 790.0 L463.3 797.3 L463.5 804.7 L463.8 812.1 L464.0 819.7 L464.2 827.3 L464.4 834.9 L464.6 842.6 L464.7 850.3 L464.9 858.0 L465.1 865.7 L465.3 873.4 L465.5 881.0" stroke="#0044ff" stroke-width="3.8" stroke-dasharray="21 13.5 8 13.5" stroke-dashoffset="0"/>
<path d="M468.5 881.0 L468.6 865.7 L468.6 850.2 L468.7 834.5 L468.7 818.7 L468.8 802.9 L468.8 787.2 L468.9 771.6 L468.9 756.4 L469.0 741.5 L469.1 727.1 L469.1 713.2 L469.2 700.0 L469.3 690.6 L469.3 681.4 L469.4 672.5 L469.4 663.8 L469.5 655.3 L469.6 647.0 L469.6 638.9 L469.7 630.9 L469.8 623.1 L469.8 615.3 L469.9 607.6 L470.0 600.0 L470.1 593.7 L470.1 587.4 L470.2 581.2 L470.3 575.1 L470.3 569.1 L470.4 563.1 L470.5 557.3 L470.6 551.6 L470.7 546.0 L470.8 540.5 L470.9 535.2 L471.0 530.0 L471.1 526.1 L471.2 522.3 L471.3 518.6 L471.4 514.9 L471.5 511.4 L471.6 507.9 L471.7 504.5 L471.8 501.1 L471.9 497.7 L472.1 494.3 L472.3 490.9 L472.5 487.5 L472.7 484.3 L472.9 481.1 L473.1 477.9 L473.4 474.7 L473.6 471.5 L473.9 468.4 L474.2 465.3 L474.5 462.2 L474.9 459.1 L475.3 456.0 L475.7 453.0 L476.2 450.0 L476.8 447.2 L477.4 444.3 L478.0 441.5 L478.6 438.6 L479.3 435.8 L480.0 433.0 L480.7 430.3 L481.5 427.6 L482.3 424.9 L483.2 422.4 L484.1 419.9 L485.0 417.5 L485.8 415.6 L486.7 413.8 L487.5 412.0 L488.4 410.3 L489.4 408.6 L490.3 407.0 L491.3 405.3 L492.3 403.7 L493.3 402.2 L494.3 400.6 L495.3 399.1 L496.2 397.5 L497.2 396.1 L498.1 394.6 L499.0 393.2 L499.9 391.8 L500.8 390.4 L501.7 389.0 L502.6 387.6 L503.5 386.3 L504.5 385.0 L505.5 383.7 L506.5 382.4 L507.5 381.2 L508.5 380.2 L509.4 379.1 L510.4 378.1 L511.4 377.1 L512.4 376.1 L513.5 375.2 L514.5 374.2 L515.6 373.3 L516.6 372.5 L517.7 371.6 L518.9 370.8 L520.0 370.0 L521.2 369.2 L522.4 368.5 L523.7 367.8 L525.0 367.1 L526.3 366.5 L527.7 365.9 L529.0 365.3 L530.3 364.7 L531.6 364.1 L532.8 363.6 L533.9 363.0 L535.0 362.5 L535.7 362.1 L536.4 361.8 L537.0 361.5 L537.6 361.1 L538.2 360.8 L538.7 360.5 L539.3 360.2 L539.9 359.9 L540.5 359.6 L541.1 359.3 L541.8 359.0 L542.5 358.8 L543.5 358.4 L544.5 358.0 L545.6 357.7 L546.6 357.3 L547.8 357.0 L548.9 356.6 L550.1 356.3 L551.3 356.0 L552.5 355.7 L553.7 355.5 L555.0 355.2 L556.2 355.0 L557.8 354.8 L559.4 354.5 L561.1 354.3 L562.8 354.1 L564.6 354.0 L566.4 353.8 L568.1 353.7 L569.9 353.7 L571.6 353.6 L573.2 353.6 L574.8 353.7 L576.2 353.8 L577.3 353.9 L578.3 354.0 L579.3 354.1 L580.3 354.3 L581.2 354.5 L582.1 354.8 L583.0 355.0 L583.9 355.2 L584.8 355.5 L585.7 355.7 L586.6 356.0 L587.5 356.2 L588.4 356.5 L589.2 356.7 L590.1 356.9 L590.9 357.1 L591.7 357.4 L592.6 357.6 L593.4 357.9 L594.2 358.1 L595.0 358.4 L595.9 358.7 L596.7 359.1 L597.5 359.5 L598.4 360.0 L599.4 360.5 L600.3 361.1 L601.3 361.7 L602.2 362.3 L603.2 363.0 L604.1 363.7 L605.0 364.4 L606.0 365.1 L606.9 365.9 L607.8 366.7 L608.8 367.5 L609.8 368.5 L610.9 369.5 L612.0 370.5 L613.1 371.6 L614.2 372.7 L615.2 373.8 L616.3 375.0 L617.3 376.2 L618.4 377.4 L619.4 378.7 L620.3 379.9 L621.2 381.2 L622.2 382.7 L623.2 384.3 L624.1 386.0 L625.0 387.7 L625.9 389.4 L626.8 391.1 L627.6 392.9 L628.4 394.6 L629.1 396.4 L629.9 398.0 L630.6 399.7 L631.2 401.2 L631.8 402.5 L632.2 403.6 L632.7 404.8 L633.1 405.9 L633.5 407.0 L633.9 408.1 L634.2 409.2 L634.6 410.3 L635.0 411.4 L635.4 412.6 L635.8 413.8 L636.2 415.0 L636.8 416.5 L637.5 418.1 L638.1 419.8 L638.8 421.4 L639.5 423.1 L640.2 424.8 L640.9 426.5 L641.6 428.3 L642.2 430.0 L642.8 431.7 L643.3 433.3 L643.8 435.0 L644.1 436.5 L644.4 438.0 L644.6 439.4 L644.8 440.9 L645.0 442.4 L645.1 443.8 L645.2 445.3 L645.4 446.7 L645.6 448.2 L645.7 449.6 L646.0 451.1 L646.2 452.5 L646.6 454.0 L646.9 455.4 L647.3 456.9 L647.7 458.4 L648.1 459.9 L648.5 461.3 L648.9 462.8 L649.4 464.2 L649.8 465.7 L650.3 467.1 L650.8 468.6 L651.2 470.0 L651.7 471.4 L652.2 472.8 L652.7 474.1 L653.2 475.5 L653.8 476.8 L654.3 478.2 L654.8 479.5 L655.4 480.9 L655.9 482.2 L656.4 483.6 L657.0 484.9 L657.5 486.2" stroke="#0044ff" stroke-width="3.8" stroke-dasharray="21 13.5 8 13.5" stroke-dashoffset="51.9"/>
<path d="M657.5 486.2 L657.8 484.9 L658.1 483.6 L658.4 482.2 L658.7 480.9 L659.0 479.6 L659.3 478.2 L659.6 476.9 L659.9 475.5 L660.3 474.2 L660.6 472.8 L660.9 471.4 L661.2 470.0 L661.6 468.4 L662.0 466.8 L662.4 465.1 L662.9 463.5 L663.3 461.8 L663.7 460.1 L664.1 458.4 L664.6 456.7 L665.0 455.0 L665.4 453.4 L665.8 451.7 L666.2 450.0 L666.7 448.3 L667.1 446.6 L667.5 445.0 L667.9 443.3 L668.4 441.6 L668.8 439.9 L669.2 438.2 L669.6 436.5 L670.1 434.9 L670.5 433.2 L670.9 431.6 L671.2 430.0 L671.6 428.6 L671.9 427.2 L672.2 425.8 L672.5 424.5 L672.8 423.2 L673.1 421.8 L673.4 420.5 L673.7 419.2 L674.0 417.9 L674.3 416.5 L674.7 415.1 L675.0 413.8 L675.4 412.2 L675.8 410.7 L676.2 409.1 L676.5 407.6 L677.0 406.0 L677.4 404.4 L677.8 402.9 L678.2 401.3 L678.6 399.7 L679.1 398.1 L679.5 396.6 L680.0 395.0 L680.5 393.4 L681.0 391.9 L681.5 390.3 L682.0 388.8 L682.5 387.2 L683.0 385.6 L683.5 384.1 L684.1 382.5 L684.6 381.0 L685.1 379.4 L685.7 377.8 L686.2 376.2 L686.8 374.6 L687.4 372.9 L688.0 371.2 L688.6 369.5 L689.2 367.8 L689.8 366.1 L690.4 364.4 L691.1 362.7 L691.7 361.1 L692.4 359.4 L693.1 357.8 L693.8 356.2 L694.4 354.8 L695.1 353.4 L695.8 352.0 L696.6 350.6 L697.3 349.2 L698.1 347.9 L698.8 346.6 L699.6 345.2 L700.3 343.9 L701.1 342.6 L701.8 341.3 L702.5 340.0 L703.1 338.8 L703.8 337.6 L704.4 336.5 L705.0 335.3 L705.6 334.1 L706.2 333.0 L706.8 331.8 L707.4 330.7 L708.0 329.6 L708.7 328.5 L709.3 327.4 L710.0 326.2 L710.7 325.2 L711.4 324.0 L712.1 322.9 L712.9 321.8 L713.6 320.7 L714.4 319.6 L715.2 318.5 L715.9 317.4 L716.6 316.4 L717.4 315.5 L718.1 314.6 L718.8 313.8 L719.2 313.2 L719.6 312.8 L720.0 312.3 L720.4 311.9 L720.8 311.5 L721.2 311.2 L721.5 310.8 L721.9 310.4 L722.4 310.0 L722.8 309.6 L723.3 309.2 L723.8 308.8 L724.5 308.0 L725.3 307.2 L726.1 306.4 L727.0 305.5 L727.9 304.7 L728.8 303.8 L729.8 302.9 L730.8 302.0 L731.8 301.1 L732.8 300.3 L733.9 299.5 L735.0 298.8 L736.3 298.0 L737.7 297.2 L739.1 296.5 L740.6 295.8 L742.1 295.1 L743.6 294.4 L745.2 293.8 L746.7 293.2 L748.2 292.7 L749.7 292.2 L751.1 291.7 L752.5 291.2 L753.5 290.9 L754.5 290.6 L755.5 290.3 L756.5 290.0 L757.4 289.8 L758.3 289.5 L759.3 289.3 L760.2 289.1 L761.2 289.0 L762.2 288.9 L763.2 288.8 L764.2 288.8 L765.6 288.8 L767.1 288.8 L768.6 289.0 L770.1 289.1 L771.6 289.4 L773.2 289.6 L774.8 290.0 L776.3 290.3 L777.9 290.7 L779.5 291.1 L781.0 291.5 L782.5 292.0 L784.0 292.5 L785.5 293.0 L787.0 293.5 L788.5 294.1 L790.0 294.7 L791.5 295.3 L793.0 296.0 L794.4 296.7 L795.9 297.5 L797.3 298.3 L798.7 299.1 L800.0 300.0 L801.4 301.0 L802.7 302.1 L804.0 303.3 L805.3 304.5 L806.6 305.8 L807.8 307.2 L809.0 308.5 L810.2 309.9 L811.4 311.2 L812.6 312.5 L813.8 313.8 L815.0 315.0 L816.1 316.1 L817.2 317.1 L818.3 318.1 L819.3 319.1 L820.4 320.1 L821.4 321.1 L822.5 322.1 L823.5 323.1 L824.5 324.2 L825.5 325.2 L826.5 326.3 L827.5 327.5 L828.5 328.8 L829.5 330.2 L830.5 331.5 L831.5 332.9 L832.4 334.4 L833.4 335.8 L834.3 337.3 L835.2 338.8 L836.1 340.4 L837.0 341.9 L837.9 343.4 L838.8 345.0 L839.7 346.7 L840.5 348.3 L841.4 350.0 L842.2 351.7 L843.0 353.4 L843.9 355.2 L844.7 356.9 L845.5 358.7 L846.3 360.6 L847.1 362.4 L847.9 364.3 L848.8 366.2 L849.8 368.7 L850.9 371.2 L852.0 373.8 L853.1 376.4 L854.2 379.2 L855.3 381.9 L856.4 384.6 L857.4 387.3 L858.5 390.0 L859.5 392.6 L860.4 395.1 L861.2 397.5 L861.9 399.3 L862.5 401.0 L863.0 402.7 L863.5 404.3 L864.0 405.9 L864.5 407.4 L865.0 409.0 L865.4 410.6 L865.9 412.2 L866.4 413.9 L866.9 415.7 L867.5 417.5 L868.3 420.1 L869.0 422.8 L869.9 425.7 L870.7 428.7 L871.5 431.7 L872.4 434.8 L873.3 437.8 L874.1 440.8 L875.0 443.7 L875.8 446.4 L876.7 448.9 L877.5 451.3 L878.0 452.7 L878.5 454.0 L879.1 455.4 L879.6 456.6 L880.1 457.9 L880.6 459.1 L881.1 460.2 L881.6 461.3 L882.2 462.3 L882.7 463.3 L883.2 464.2 L883.8 465.0 L884.1 465.5 L884.4 465.9 L884.8 466.3 L885.1 466.7 L885.5 467.0 L885.9 467.3 L886.2 467.7 L886.6 468.0 L886.9 468.3 L887.3 468.6 L887.6 468.9 L888.0 469.2" stroke="#0044ff" stroke-width="3.8" stroke-dasharray="21 13.5 8 13.5" stroke-dashoffset="18.7"/>
<path d="M888.0 469.2 L888.4 468.9 L888.8 468.6 L889.1 468.2 L889.5 467.9 L889.9 467.6 L890.3 467.3 L890.7 466.9 L891.0 466.6 L891.4 466.2 L891.8 465.8 L892.1 465.4 L892.5 465.0 L892.9 464.4 L893.4 463.8 L893.8 463.1 L894.2 462.5 L894.6 461.8 L895.0 461.1 L895.4 460.3 L895.8 459.5 L896.2 458.7 L896.6 457.9 L897.0 457.1 L897.5 456.2 L898.2 455.0 L898.8 453.7 L899.5 452.3 L900.2 450.9 L900.9 449.4 L901.7 447.9 L902.4 446.3 L903.2 444.8 L903.9 443.3 L904.7 441.7 L905.5 440.2 L906.2 438.8 L907.0 437.3 L907.8 435.8 L908.6 434.3 L909.4 432.8 L910.2 431.3 L911.0 429.8 L911.8 428.4 L912.7 426.9 L913.5 425.5 L914.4 424.0 L915.3 422.6 L916.2 421.2 L917.2 419.9 L918.2 418.6 L919.2 417.2 L920.2 415.9 L921.2 414.6 L922.3 413.3 L923.4 412.0 L924.4 410.8 L925.5 409.6 L926.6 408.4 L927.7 407.3 L928.8 406.2 L929.7 405.4 L930.6 404.5 L931.5 403.7 L932.4 403.0 L933.3 402.2 L934.2 401.5 L935.1 400.8 L936.0 400.1 L937.0 399.4 L938.0 398.8 L939.0 398.1 L940.0 397.5 L941.1 396.9 L942.3 396.2 L943.5 395.6 L944.8 395.0 L946.0 394.4 L947.3 393.9 L948.6 393.4 L949.8 392.9 L951.1 392.4 L952.4 392.0 L953.7 391.6 L955.0 391.2 L956.2 390.9 L957.5 390.7 L958.7 390.4 L960.0 390.2 L961.2 390.1 L962.5 389.9 L963.7 389.8 L965.0 389.7 L966.2 389.6 L967.5 389.6 L968.7 389.5 L970.0 389.5 L971.3 389.5 L972.5 389.5 L973.8 389.6 L975.1 389.7 L976.4 389.8 L977.7 389.9 L979.0 390.0 L980.2 390.2 L981.5 390.3 L982.7 390.5 L983.9 390.6 L985.0 390.8 L985.9 390.9 L986.8 391.0 L987.6 391.1 L988.4 391.2 L989.2 391.3 L990.0 391.5 L990.8 391.6 L991.6 391.7 L992.4 391.9 L993.2 392.1 L994.1 392.3 L995.0 392.5 L996.3 392.8 L997.7 393.2 L999.1 393.6 L1000.5 394.0 L1002.0 394.4 L1003.5 394.9 L1005.0 395.4 L1006.6 395.9 L1008.1 396.4 L1009.6 397.0 L1011.1 397.6 L1012.5 398.2 L1014.0 399.0 L1015.5 399.7 L1017.1 400.5 L1018.6 401.3 L1020.2 402.1 L1021.7 403.0 L1023.2 403.9 L1024.7 404.8 L1026.1 405.7 L1027.5 406.7 L1028.8 407.7 L1030.0 408.8 L1031.0 409.7 L1032.0 410.6 L1032.9 411.6 L1033.8 412.6 L1034.7 413.7 L1035.5 414.7 L1036.4 415.8 L1037.1 416.8 L1037.9 417.9 L1038.6 419.0 L1039.3 420.1 L1040.0 421.2 L1040.6 422.3 L1041.3 423.4 L1041.8 424.5 L1042.4 425.6 L1042.9 426.7 L1043.5 427.8 L1044.0 428.9 L1044.4 430.1 L1044.9 431.2 L1045.4 432.5 L1045.8 433.7 L1046.2 435.0 L1046.8 436.7 L1047.3 438.4 L1047.7 440.2 L1048.2 442.1 L1048.6 444.0 L1049.0 445.9 L1049.4 447.9 L1049.8 449.9 L1050.2 451.8 L1050.5 453.7 L1050.9 455.6 L1051.2 457.5 L1051.6 459.2 L1051.9 460.8 L1052.2 462.5 L1052.5 464.1 L1052.8 465.7 L1053.0 467.3 L1053.3 468.9 L1053.5 470.6 L1053.8 472.2 L1054.0 473.9 L1054.3 475.7 L1054.5 477.5 L1054.8 479.7 L1055.0 482.0 L1055.3 484.3 L1055.5 486.6 L1055.7 488.9 L1055.9 491.3 L1056.1 493.8 L1056.3 496.3 L1056.5 498.9 L1056.7 501.7 L1056.8 504.5 L1057.0 507.5 L1057.2 512.4 L1057.5 517.6 L1057.7 523.1 L1057.9 528.9 L1058.0 534.9 L1058.2 541.1 L1058.3 547.4 L1058.5 553.8 L1058.6 560.3 L1058.7 566.9 L1058.9 573.5 L1059.0 580.0 L1059.2 587.7 L1059.3 595.3 L1059.4 603.1 L1059.6 610.9 L1059.7 618.8 L1059.8 626.8 L1059.9 635.1 L1060.1 643.5 L1060.2 652.2 L1060.3 661.1 L1060.4 670.4 L1060.5 680.0 L1060.7 694.3 L1060.8 709.5 L1060.9 725.4 L1061.1 741.9 L1061.2 758.8 L1061.3 776.2 L1061.4 793.7 L1061.5 811.4 L1061.6 829.1 L1061.8 846.7 L1061.9 864.0 L1062.0 881.0" stroke="#0044ff" stroke-width="3.8" stroke-dasharray="21 13.5 8 13.5" stroke-dashoffset="39.7"/>
<path d="M1064.0 881.0 L1064.2 869.1 L1064.4 856.6 L1064.6 843.9 L1064.7 831.1 L1064.9 818.2 L1065.1 805.5 L1065.3 793.1 L1065.5 781.1 L1065.7 769.8 L1066.0 759.2 L1066.3 749.6 L1066.6 741.0 L1066.8 737.0 L1067.0 733.4 L1067.2 730.0 L1067.4 726.8 L1067.6 723.8 L1067.9 720.9 L1068.1 718.1 L1068.3 715.3 L1068.6 712.4 L1068.8 709.4 L1069.1 706.3 L1069.4 703.0 L1069.8 698.8 L1070.1 694.4 L1070.5 690.0 L1070.9 685.4 L1071.3 680.8 L1071.7 676.1 L1072.2 671.4 L1072.6 666.7 L1073.1 662.1 L1073.6 657.5 L1074.1 653.0 L1074.6 648.7 L1075.1 644.9 L1075.6 641.1 L1076.0 637.3 L1076.5 633.5 L1077.1 629.8 L1077.6 626.1 L1078.1 622.5 L1078.7 618.9 L1079.3 615.3 L1079.9 611.8 L1080.6 608.4 L1081.2 605.0 L1081.9 602.1 L1082.5 599.3 L1083.2 596.5 L1083.8 593.7 L1084.5 591.0 L1085.2 588.3 L1085.9 585.6 L1086.7 583.0 L1087.5 580.4 L1088.3 577.7 L1089.1 575.1 L1090.0 572.5 L1090.9 569.9 L1091.8 567.3 L1092.7 564.8 L1093.7 562.2 L1094.7 559.7 L1095.7 557.2 L1096.7 554.7 L1097.8 552.2 L1098.9 549.7 L1100.1 547.3 L1101.3 544.9 L1102.5 542.5 L1103.8 540.2 L1105.1 537.8 L1106.5 535.5 L1107.9 533.2 L1109.4 531.0 L1110.9 528.7 L1112.4 526.5 L1113.9 524.3 L1115.5 522.2 L1117.0 520.2 L1118.5 518.2 L1120.0 516.2 L1121.2 514.7 L1122.5 513.2 L1123.7 511.7 L1125.0 510.3 L1126.3 508.9 L1127.5 507.6 L1128.8 506.3 L1130.0 505.0 L1131.3 503.7 L1132.5 502.4 L1133.8 501.2 L1135.0 500.0 L1136.1 499.0 L1137.1 497.9 L1138.1 496.9 L1139.2 496.0 L1140.2 495.0 L1141.2 494.1 L1142.3 493.1 L1143.3 492.2 L1144.3 491.4 L1145.4 490.5 L1146.4 489.6 L1147.5 488.8 L1148.5 487.9 L1149.6 487.1 L1150.7 486.3 L1151.8 485.5 L1152.9 484.7 L1154.1 484.0 L1155.1 483.2 L1156.2 482.5 L1157.2 481.8 L1158.2 481.2 L1159.1 480.6 L1160.0 480.0 L1160.5 479.7 L1160.9 479.4 L1161.3 479.1 L1161.7 478.9 L1162.1 478.7 L1162.4 478.4 L1162.8 478.2 L1163.2 478.0 L1163.6 477.8 L1164.0 477.5 L1164.5 477.3 L1165.0 477.0 L1166.0 476.5 L1167.0 475.9 L1168.1 475.4 L1169.3 474.7 L1170.5 474.1 L1171.8 473.5 L1173.2 472.8 L1174.5 472.2 L1175.9 471.6 L1177.3 471.0 L1178.6 470.5 L1180.0 470.0 L1181.5 469.5 L1183.0 469.0 L1184.6 468.6 L1186.2 468.1 L1187.8 467.7 L1189.4 467.3 L1191.0 467.0 L1192.6 466.6 L1194.2 466.3 L1195.8 466.0 L1197.3 465.8 L1198.8 465.5 L1200.0 465.3 L1201.2 465.1 L1202.4 465.0 L1203.6 464.8 L1204.8 464.7 L1205.9 464.6 L1207.1 464.5 L1208.2 464.5 L1209.3 464.4 L1210.4 464.3 L1211.5 464.3 L1212.5 464.3 L1213.3 464.2 L1214.0 464.2 L1214.8 464.2 L1215.5 464.2 L1216.2 464.3 L1216.9 464.3 L1217.6 464.3 L1218.3 464.3 L1219.0 464.4 L1219.7 464.4 L1220.5 464.5 L1221.2 464.5 L1222.3 464.6 L1223.3 464.6 L1224.4 464.7 L1225.5 464.8 L1226.6 464.8 L1227.8 464.9 L1228.9 465.0 L1230.1 465.1 L1231.3 465.2 L1232.5 465.3 L1233.8 465.4 L1235.0 465.5 L1236.5 465.6 L1238.2 465.8 L1239.8 466.0 L1241.5 466.2 L1243.3 466.5 L1245.0 466.7 L1246.7 466.9 L1248.5 467.1 L1250.2 467.2 L1251.8 467.4 L1253.5 467.5 L1255.0 467.5 L1256.3 467.5 L1257.5 467.5 L1258.7 467.4 L1260.0 467.3 L1261.2 467.2 L1262.4 467.1 L1263.5 467.0 L1264.7 466.8 L1265.8 466.7 L1266.8 466.5 L1267.8 466.4 L1268.8 466.2 L1269.4 466.2 L1269.9 466.1 L1270.4 466.0 L1271.0 465.9 L1271.4 465.9 L1271.9 465.8 L1272.4 465.7 L1272.9 465.6 L1273.4 465.5 L1273.9 465.4 L1274.4 465.2 L1275.0 465.0 L1275.9 464.7 L1276.8 464.3 L1277.8 463.8 L1278.8 463.3 L1279.8 462.8 L1280.9 462.2 L1281.9 461.6 L1283.0 461.0 L1284.1 460.4 L1285.2 459.9 L1286.4 459.3 L1287.5 458.8 L1288.9 458.1 L1290.3 457.5 L1291.7 456.9 L1293.2 456.2 L1294.7 455.6 L1296.2 454.9 L1297.7 454.3 L1299.2 453.7 L1300.7 453.1 L1302.2 452.4 L1303.6 451.8 L1305.0 451.2 L1306.2 450.7 L1307.4 450.2 L1308.7 449.7 L1309.9 449.2 L1311.1 448.7 L1312.3 448.2 L1313.5 447.7 L1314.6 447.3 L1315.7 446.8 L1316.8 446.4 L1317.8 445.9 L1318.8 445.5 L1319.4 445.2 L1319.9 445.0 L1320.4 444.7 L1320.9 444.5 L1321.4 444.2 L1321.9 444.0 L1322.3 443.7 L1322.8 443.5 L1323.3 443.2 L1323.8 443.0 L1324.4 442.8 L1325.0 442.5 L1326.0 442.1 L1327.1 441.7 L1328.2 441.2 L1329.4 440.8 L1330.6 440.3 L1331.9 439.9 L1333.2 439.5 L1334.5 439.0 L1335.9 438.6 L1337.3 438.2 L1338.6 437.8 L1340.0 437.5 L1341.6 437.1 L1343.2 436.8 L1344.9 436.5 L1346.6 436.3 L1348.4 436.0 L1350.1 435.8 L1351.9 435.6 L1353.7 435.4 L1355.5 435.2 L1357.2 435.0 L1359.0 434.7 L1360.8 434.5" stroke="#0044ff" stroke-width="3.8" stroke-dasharray="21 13.5 8 13.5" stroke-dashoffset="51.2"/>
</g>
<g clip-path="url(#pc)" fill="none" stroke-linejoin="round">
<path d="M167.5 440.0 L169.0 440.3 L170.4 440.6 L171.9 440.9 L173.4 441.2 L174.8 441.5 L176.3 441.7 L177.8 442.0 L179.2 442.3 L180.7 442.7 L182.1 443.0 L183.6 443.4 L185.0 443.8 L186.4 444.2 L187.8 444.6 L189.1 445.0 L190.4 445.5 L191.8 445.9 L193.1 446.4 L194.5 446.9 L195.8 447.4 L197.1 447.9 L198.5 448.4 L199.9 449.0 L201.2 449.5 L202.8 450.1 L204.3 450.8 L205.9 451.5 L207.5 452.2 L209.1 452.9 L210.7 453.6 L212.2 454.4 L213.8 455.1 L215.4 455.7 L217.0 456.4 L218.5 457.0 L220.0 457.5 L221.3 457.9 L222.6 458.4 L223.8 458.8 L225.0 459.1 L226.3 459.5 L227.5 459.9 L228.7 460.2 L229.9 460.5 L231.2 460.7 L232.4 460.9 L233.7 461.1 L235.0 461.2 L236.4 461.3 L237.8 461.4 L239.3 461.4 L240.8 461.4 L242.3 461.3 L243.8 461.2 L245.2 461.0 L246.7 460.9 L248.2 460.7 L249.7 460.5 L251.1 460.2 L252.5 460.0 L253.8 459.8 L255.1 459.5 L256.3 459.2 L257.6 458.8 L258.8 458.5 L260.0 458.1 L261.2 457.7 L262.5 457.4 L263.7 457.0 L265.0 456.6 L266.2 456.1 L267.5 455.8 L268.9 455.3 L270.3 454.8 L271.8 454.3 L273.2 453.8 L274.7 453.3 L276.2 452.8 L277.6 452.3 L279.1 451.8 L280.6 451.3 L282.0 450.8 L283.5 450.4 L285.0 450.0 L286.5 449.6 L287.9 449.3 L289.4 449.0 L290.9 448.7 L292.3 448.4 L293.8 448.2 L295.3 447.9 L296.7 447.7 L298.2 447.5 L299.7 447.3 L301.1 447.1 L302.5 447.0 L303.8 446.9 L305.0 446.8 L306.3 446.7 L307.5 446.6 L308.8 446.5 L310.0 446.5 L311.2 446.5 L312.4 446.5 L313.7 446.5 L314.9 446.5 L316.2 446.6 L317.5 446.8 L319.0 446.9 L320.6 447.2 L322.1 447.5 L323.7 447.8 L325.4 448.1 L327.0 448.5 L328.6 448.9 L330.2 449.4 L331.8 449.8 L333.3 450.3 L334.8 450.8 L336.2 451.2 L337.5 451.7 L338.7 452.1 L339.8 452.6 L341.0 453.1 L342.1 453.6 L343.2 454.1 L344.3 454.6 L345.4 455.2 L346.5 455.7 L347.7 456.3 L348.8 456.9 L350.0 457.5 L351.4 458.2 L352.8 459.0 L354.3 459.7 L355.7 460.5 L357.2 461.3 L358.7 462.1 L360.2 463.0 L361.7 463.8 L363.1 464.7 L364.6 465.6 L366.1 466.6 L367.5 467.5 L369.0 468.5 L370.6 469.6 L372.1 470.7 L373.7 471.9 L375.2 473.0 L376.7 474.2 L378.2 475.4 L379.7 476.6 L381.1 477.8 L382.5 479.0 L383.8 480.1 L385.0 481.2 L385.9 482.1 L386.7 482.9 L387.4 483.7 L388.2 484.4 L388.9 485.2 L389.5 485.9 L390.2 486.7 L390.9 487.5 L391.5 488.4 L392.2 489.3 L393.0 490.2 L393.8 491.2 L395.0 492.9 L396.3 494.7 L397.6 496.6 L398.9 498.7 L400.3 500.8 L401.7 502.9 L403.1 505.1 L404.5 507.4 L405.9 509.6 L407.3 511.9 L408.7 514.1 L410.0 516.2 L411.3 518.4 L412.6 520.7 L414.0 523.0 L415.3 525.3 L416.6 527.6 L417.9 529.9 L419.2 532.2 L420.4 534.4 L421.6 536.6 L422.8 538.7 L423.9 540.6 L425.0 542.5 L425.7 543.7 L426.4 544.8 L427.1 545.9 L427.7 546.9 L428.3 547.8 L429.0 548.8 L429.6 549.7 L430.2 550.7 L430.7 551.7 L431.3 552.7 L431.9 553.8 L432.5 555.0 L433.2 556.5 L434.0 558.1 L434.7 559.8 L435.4 561.5 L436.1 563.2 L436.8 565.0 L437.4 566.8 L438.1 568.7 L438.8 570.6 L439.4 572.5 L440.0 574.4 L440.6 576.4 L441.3 578.8 L442.0 581.3 L442.6 583.9 L443.2 586.5 L443.8 589.2 L444.4 591.9 L444.9 594.6 L445.5 597.3 L446.0 600.1 L446.6 602.8 L447.1 605.5 L447.6 608.2 L448.1 610.8 L448.6 613.5 L449.1 616.1 L449.5 618.8 L450.0 621.4 L450.4 624.1 L450.8 626.7 L451.3 629.4 L451.7 632.0 L452.1 634.7 L452.5 637.3 L452.9 639.9 L453.3 642.4 L453.7 644.9 L454.1 647.5 L454.5 650.0 L454.8 652.5 L455.2 654.9 L455.6 657.4 L455.9 659.9 L456.3 662.4 L456.6 664.9 L457.0 667.4 L457.3 669.9 L457.6 672.4 L457.9 674.8 L458.3 677.3 L458.6 679.7 L458.9 682.2 L459.2 684.6 L459.5 687.1 L459.7 689.6 L460.0 692.1 L460.3 694.6 L460.5 697.2 L460.8 699.9 L461.1 703.0 L461.3 706.2 L461.6 709.4 L461.8 712.7 L462.1 716.0 L462.3 719.3 L462.5 722.7 L462.7 726.1 L462.9 729.5 L463.1 733.0 L463.3 736.5 L463.5 740.0 L463.7 743.9 L463.9 747.8 L464.0 751.8 L464.2 755.7 L464.4 759.7 L464.5 763.7 L464.6 767.8 L464.8 772.0 L464.9 776.3 L465.0 780.7 L465.1 785.3 L465.2 790.0 L465.3 796.6 L465.4 803.6 L465.5 810.8 L465.6 818.3 L465.7 826.0 L465.7 833.8 L465.8 841.7 L465.8 849.7 L465.8 857.6 L465.9 865.5 L465.9 873.3 L466.0 881.0" stroke="#4b9a06" stroke-width="3.6" stroke-dasharray="35.5 35" stroke-dashoffset="0"/>
<path d="M468.5 881.0 L468.5 865.7 L468.6 850.2 L468.6 834.5 L468.7 818.7 L468.7 802.9 L468.7 787.2 L468.8 771.6 L468.8 756.4 L468.9 741.5 L468.9 727.1 L469.0 713.2 L469.0 700.0 L469.0 690.6 L469.1 681.5 L469.1 672.6 L469.2 664.0 L469.2 655.5 L469.2 647.3 L469.3 639.2 L469.3 631.2 L469.4 623.3 L469.4 615.5 L469.5 607.7 L469.5 600.0 L469.5 593.3 L469.5 586.5 L469.5 579.7 L469.5 572.9 L469.5 566.3 L469.5 559.7 L469.5 553.3 L469.5 547.1 L469.6 541.1 L469.7 535.4 L469.8 530.0 L470.0 525.0 L470.1 522.0 L470.3 519.3 L470.5 516.6 L470.6 514.2 L470.8 511.8 L471.0 509.4 L471.3 507.1 L471.5 504.8 L471.7 502.5 L472.0 500.1 L472.2 497.6 L472.5 495.0 L472.8 491.8 L473.2 488.6 L473.5 485.3 L473.9 481.9 L474.3 478.4 L474.7 475.0 L475.1 471.5 L475.6 468.1 L476.0 464.7 L476.5 461.4 L477.0 458.1 L477.5 455.0 L477.9 452.3 L478.4 449.7 L478.8 447.2 L479.2 444.7 L479.7 442.2 L480.1 439.7 L480.6 437.3 L481.1 434.9 L481.7 432.4 L482.3 430.0 L483.0 427.5 L483.8 425.0 L484.6 422.3 L485.5 419.5 L486.5 416.7 L487.4 413.9 L488.5 411.1 L489.6 408.3 L490.7 405.6 L491.9 402.8 L493.2 400.1 L494.6 397.5 L496.0 395.0 L497.5 392.5 L499.0 390.2 L500.7 387.9 L502.4 385.7 L504.2 383.5 L506.0 381.4 L507.9 379.4 L509.9 377.3 L511.8 375.3 L513.9 373.4 L515.9 371.4 L517.9 369.4 L520.0 367.5 L522.1 365.5 L524.3 363.5 L526.5 361.6 L528.7 359.6 L530.9 357.7 L533.2 355.8 L535.5 353.9 L537.8 352.1 L540.2 350.3 L542.6 348.7 L545.0 347.0 L547.5 345.5 L550.0 344.0 L552.6 342.6 L555.4 341.3 L558.2 340.0 L561.0 338.7 L563.8 337.5 L566.6 336.4 L569.3 335.3 L571.9 334.3 L574.4 333.4 L576.7 332.5 L578.8 331.8 L579.9 331.3 L580.9 330.9 L581.9 330.5 L582.9 330.2 L583.8 329.8 L584.7 329.5 L585.5 329.2 L586.4 328.9 L587.3 328.7 L588.1 328.5 L589.0 328.4 L590.0 328.2 L591.0 328.2 L592.0 328.1 L593.1 328.1 L594.1 328.1 L595.2 328.2 L596.2 328.3 L597.3 328.4 L598.4 328.5 L599.4 328.7 L600.4 328.9 L601.5 329.2 L602.5 329.5 L603.6 329.8 L604.6 330.2 L605.6 330.6 L606.6 331.1 L607.7 331.6 L608.7 332.1 L609.7 332.7 L610.7 333.3 L611.7 334.0 L612.8 334.7 L613.9 335.5 L615.0 336.2 L616.7 337.5 L618.6 338.9 L620.5 340.4 L622.4 342.0 L624.4 343.7 L626.4 345.4 L628.4 347.3 L630.4 349.2 L632.3 351.2 L634.1 353.3 L635.9 355.4 L637.5 357.5 L639.2 360.0 L640.8 362.6 L642.4 365.4 L643.9 368.3 L645.3 371.3 L646.7 374.3 L648.0 377.3 L649.2 380.4 L650.4 383.5 L651.6 386.5 L652.7 389.6 L653.8 392.5 L654.7 395.2 L655.6 397.9 L656.4 400.6 L657.2 403.3 L657.9 406.0 L658.6 408.7 L659.3 411.4 L659.9 414.1 L660.6 416.8 L661.2 419.5 L661.8 422.2 L662.5 425.0 L663.2 427.9 L663.8 430.9 L664.5 433.9 L665.1 437.0 L665.8 440.1 L666.4 443.2 L667.0 446.2 L667.6 449.2 L668.2 452.1 L668.8 454.9 L669.4 457.5 L670.0 460.0 L670.4 461.7 L670.9 463.3 L671.3 464.8 L671.7 466.3 L672.1 467.7 L672.5 469.1 L672.9 470.5 L673.3 471.9 L673.8 473.3 L674.2 474.7 L674.6 476.1 L675.0 477.5" stroke="#4b9a06" stroke-width="3.6" stroke-dasharray="35.5 35" stroke-dashoffset="0"/>
<path d="M675.0 477.5 L675.4 476.3 L675.8 475.1 L676.3 473.9 L676.7 472.7 L677.1 471.6 L677.5 470.4 L678.0 469.2 L678.4 468.0 L678.8 466.7 L679.2 465.4 L679.6 464.0 L680.0 462.5 L680.6 460.1 L681.1 457.5 L681.6 454.8 L682.1 451.9 L682.6 448.9 L683.1 445.8 L683.6 442.7 L684.1 439.6 L684.6 436.5 L685.1 433.4 L685.7 430.4 L686.2 427.5 L686.8 424.7 L687.4 422.0 L688.0 419.3 L688.6 416.6 L689.2 413.9 L689.8 411.3 L690.4 408.6 L691.1 405.9 L691.7 403.2 L692.4 400.5 L693.1 397.8 L693.8 395.0 L694.5 392.0 L695.2 389.0 L696.0 386.0 L696.7 382.9 L697.5 379.8 L698.3 376.7 L699.1 373.6 L700.0 370.6 L700.9 367.5 L701.8 364.6 L702.7 361.6 L703.8 358.8 L704.7 356.1 L705.8 353.4 L706.9 350.8 L708.0 348.1 L709.2 345.5 L710.4 342.9 L711.6 340.4 L712.8 337.9 L714.0 335.5 L715.2 333.1 L716.4 330.9 L717.5 328.8 L718.3 327.2 L719.2 325.7 L720.0 324.2 L720.7 322.8 L721.5 321.4 L722.3 320.1 L723.1 318.7 L724.0 317.5 L724.8 316.2 L725.7 315.0 L726.6 313.7 L727.5 312.5 L728.4 311.3 L729.3 310.2 L730.3 309.1 L731.2 307.9 L732.2 306.8 L733.2 305.8 L734.2 304.7 L735.3 303.7 L736.4 302.7 L737.5 301.8 L738.7 300.9 L740.0 300.0 L741.6 299.0 L743.3 298.0 L745.0 297.0 L746.9 296.0 L748.8 295.0 L750.8 294.2 L752.8 293.4 L754.8 292.6 L756.7 292.0 L758.7 291.5 L760.6 291.2 L762.5 291.0 L764.2 291.0 L765.9 291.0 L767.6 291.3 L769.3 291.6 L770.9 291.9 L772.6 292.4 L774.3 293.0 L776.0 293.6 L777.6 294.2 L779.2 294.9 L780.9 295.6 L782.5 296.2 L784.2 297.0 L786.0 297.8 L787.7 298.6 L789.4 299.5 L791.1 300.5 L792.8 301.4 L794.5 302.5 L796.2 303.6 L797.8 304.8 L799.4 306.0 L801.0 307.3 L802.5 308.8 L804.3 310.5 L806.0 312.5 L807.7 314.6 L809.3 316.7 L810.9 319.0 L812.5 321.4 L814.0 323.8 L815.5 326.2 L817.0 328.7 L818.4 331.3 L819.9 333.8 L821.2 336.2 L822.7 338.9 L824.1 341.6 L825.4 344.4 L826.8 347.2 L828.1 350.0 L829.3 352.9 L830.6 355.7 L831.8 358.6 L832.9 361.5 L834.1 364.4 L835.2 367.2 L836.2 370.0 L837.2 372.6 L838.2 375.2 L839.1 377.8 L839.9 380.4 L840.8 382.9 L841.6 385.5 L842.4 388.1 L843.2 390.7 L844.0 393.3 L844.7 395.9 L845.5 398.6 L846.2 401.2 L847.1 404.2 L847.8 407.3 L848.6 410.4 L849.4 413.6 L850.1 416.8 L850.9 420.0 L851.6 423.2 L852.3 426.3 L853.0 429.3 L853.7 432.2 L854.3 434.9 L855.0 437.5 L855.4 439.2 L855.8 440.9 L856.2 442.6 L856.6 444.2 L857.0 445.8 L857.3 447.3 L857.7 448.8 L858.1 450.2 L858.5 451.5 L859.0 452.8 L859.5 453.9 L860.0 455.0 L860.4 455.6 L860.8 456.2 L861.2 456.7 L861.6 457.2 L862.0 457.6 L862.4 458.0 L862.8 458.4 L863.3 458.8 L863.7 459.2 L864.2 459.6 L864.6 460.1 L865.0 460.5" stroke="#4b9a06" stroke-width="3.6" stroke-dasharray="35.5 35" stroke-dashoffset="19.1"/>
<path d="M865.0 460.5 L865.4 460.1 L865.8 459.7 L866.2 459.3 L866.7 458.9 L867.1 458.5 L867.5 458.1 L867.9 457.7 L868.3 457.3 L868.7 456.8 L869.1 456.3 L869.6 455.7 L870.0 455.0 L871.0 453.2 L871.9 450.9 L872.9 448.4 L873.9 445.5 L874.9 442.4 L875.9 439.2 L876.9 435.9 L878.0 432.5 L879.1 429.2 L880.2 425.9 L881.3 422.9 L882.5 420.0 L883.6 417.4 L884.8 414.9 L886.0 412.3 L887.2 409.8 L888.5 407.3 L889.7 404.8 L891.0 402.4 L892.3 400.0 L893.6 397.7 L894.9 395.5 L896.2 393.3 L897.5 391.2 L898.5 389.7 L899.5 388.1 L900.6 386.7 L901.6 385.2 L902.6 383.8 L903.6 382.5 L904.7 381.1 L905.7 379.8 L906.8 378.6 L907.8 377.4 L908.9 376.2 L910.0 375.0 L911.0 374.0 L912.0 373.0 L913.0 372.0 L914.0 371.0 L915.0 370.1 L916.0 369.1 L917.0 368.3 L918.1 367.4 L919.1 366.6 L920.2 365.9 L921.4 365.2 L922.5 364.5 L923.6 363.9 L924.8 363.4 L926.0 362.9 L927.2 362.4 L928.5 362.0 L929.7 361.7 L931.0 361.3 L932.3 361.0 L933.6 360.7 L934.9 360.5 L936.2 360.2 L937.5 360.0 L938.9 359.8 L940.3 359.6 L941.8 359.4 L943.2 359.3 L944.7 359.1 L946.2 359.0 L947.6 359.0 L949.1 359.0 L950.6 359.0 L952.1 359.0 L953.5 359.1 L955.0 359.2 L956.5 359.4 L957.9 359.7 L959.4 359.9 L960.9 360.2 L962.4 360.6 L963.8 361.0 L965.3 361.4 L966.8 361.8 L968.2 362.3 L969.7 362.8 L971.1 363.3 L972.5 363.8 L973.9 364.3 L975.3 364.8 L976.7 365.4 L978.1 366.1 L979.4 366.7 L980.8 367.4 L982.1 368.0 L983.5 368.7 L984.8 369.4 L986.1 370.0 L987.4 370.6 L988.8 371.2 L989.9 371.8 L991.1 372.3 L992.3 372.8 L993.4 373.3 L994.5 373.8 L995.7 374.3 L996.8 374.8 L997.9 375.3 L999.0 375.8 L1000.2 376.3 L1001.3 376.9 L1002.5 377.5 L1003.8 378.2 L1005.2 378.9 L1006.6 379.7 L1008.0 380.5 L1009.4 381.3 L1010.8 382.1 L1012.2 382.9 L1013.6 383.8 L1015.0 384.7 L1016.3 385.6 L1017.5 386.5 L1018.8 387.5 L1019.8 388.4 L1020.9 389.4 L1021.9 390.3 L1022.8 391.3 L1023.8 392.3 L1024.7 393.4 L1025.6 394.4 L1026.5 395.5 L1027.4 396.6 L1028.2 397.7 L1029.1 398.8 L1030.0 400.0 L1031.0 401.3 L1032.0 402.7 L1033.0 404.1 L1034.0 405.6 L1035.0 407.1 L1036.0 408.5 L1036.9 410.1 L1037.9 411.6 L1038.8 413.1 L1039.6 414.6 L1040.5 416.0 L1041.2 417.5 L1041.9 418.8 L1042.5 420.0 L1043.1 421.3 L1043.7 422.5 L1044.2 423.7 L1044.7 425.0 L1045.3 426.2 L1045.7 427.4 L1046.2 428.7 L1046.6 429.9 L1047.1 431.2 L1047.5 432.5 L1047.9 433.8 L1048.3 435.1 L1048.7 436.5 L1049.0 437.8 L1049.3 439.1 L1049.6 440.5 L1049.9 441.8 L1050.2 443.2 L1050.5 444.6 L1050.7 446.0 L1051.0 447.3 L1051.2 448.8 L1051.5 450.3 L1051.8 451.8 L1052.0 453.3 L1052.2 454.9 L1052.4 456.5 L1052.6 458.1 L1052.8 459.7 L1053.0 461.2 L1053.2 462.8 L1053.4 464.4 L1053.6 466.0 L1053.8 467.5 L1053.9 469.0 L1054.1 470.4 L1054.2 471.8 L1054.4 473.2 L1054.5 474.5 L1054.7 475.9 L1054.8 477.3 L1054.9 478.7 L1055.1 480.2 L1055.2 481.7 L1055.4 483.3 L1055.5 485.0 L1055.7 487.4 L1055.9 490.0 L1056.2 492.6 L1056.4 495.2 L1056.6 498.0 L1056.8 500.9 L1057.0 503.8 L1057.3 506.8 L1057.5 510.0 L1057.7 513.2 L1057.8 516.5 L1058.0 520.0 L1058.2 525.5 L1058.4 531.4 L1058.5 537.7 L1058.7 544.2 L1058.8 551.0 L1058.9 558.0 L1058.9 565.0 L1059.0 572.1 L1059.1 579.2 L1059.2 586.3 L1059.3 593.2 L1059.4 600.0 L1059.5 606.6 L1059.7 612.9 L1059.8 619.2 L1059.9 625.3 L1060.1 631.5 L1060.2 637.7 L1060.4 644.1 L1060.5 650.7 L1060.6 657.5 L1060.8 664.6 L1060.9 672.1 L1061.0 680.0 L1061.2 693.6 L1061.3 708.2 L1061.4 723.9 L1061.5 740.3 L1061.6 757.3 L1061.7 774.8 L1061.8 792.6 L1061.9 810.6 L1061.9 828.6 L1062.0 846.4 L1062.1 864.0 L1062.2 881.0" stroke="#4b9a06" stroke-width="3.6" stroke-dasharray="35.5 35" stroke-dashoffset="25.8"/>
<path d="M1063.4 881.0 L1063.7 869.1 L1063.9 856.6 L1064.1 843.9 L1064.4 831.1 L1064.6 818.2 L1064.8 805.5 L1065.1 793.1 L1065.3 781.1 L1065.6 769.8 L1065.9 759.2 L1066.2 749.6 L1066.6 741.0 L1066.8 737.0 L1067.0 733.4 L1067.2 730.0 L1067.4 726.8 L1067.6 723.8 L1067.9 720.9 L1068.1 718.1 L1068.3 715.3 L1068.6 712.4 L1068.8 709.4 L1069.1 706.3 L1069.4 703.0 L1069.8 698.8 L1070.1 694.4 L1070.5 690.0 L1070.9 685.4 L1071.3 680.8 L1071.7 676.1 L1072.2 671.4 L1072.6 666.7 L1073.1 662.1 L1073.6 657.5 L1074.1 653.0 L1074.6 648.7 L1075.1 644.9 L1075.6 641.1 L1076.1 637.3 L1076.6 633.6 L1077.1 629.9 L1077.6 626.2 L1078.2 622.6 L1078.7 619.0 L1079.3 615.4 L1079.9 611.9 L1080.6 608.4 L1081.2 605.0 L1081.9 601.9 L1082.5 598.9 L1083.1 596.0 L1083.8 593.0 L1084.4 590.1 L1085.1 587.3 L1085.8 584.4 L1086.6 581.5 L1087.4 578.7 L1088.2 575.8 L1089.1 572.9 L1090.0 570.0 L1091.0 566.9 L1092.1 563.7 L1093.2 560.4 L1094.4 557.1 L1095.6 553.9 L1096.9 550.6 L1098.2 547.4 L1099.5 544.2 L1100.9 541.1 L1102.2 538.1 L1103.6 535.2 L1105.0 532.5 L1106.2 530.4 L1107.3 528.3 L1108.6 526.3 L1109.8 524.4 L1111.0 522.5 L1112.3 520.6 L1113.6 518.8 L1114.8 517.0 L1116.1 515.3 L1117.4 513.5 L1118.7 511.8 L1120.0 510.0 L1121.2 508.3 L1122.5 506.7 L1123.7 505.0 L1125.0 503.4 L1126.2 501.8 L1127.5 500.2 L1128.7 498.6 L1130.0 497.1 L1131.3 495.6 L1132.5 494.1 L1133.8 492.6 L1135.0 491.2 L1136.0 490.1 L1137.0 489.0 L1138.0 487.9 L1139.0 486.9 L1139.9 485.9 L1140.9 484.9 L1141.9 483.9 L1142.9 482.9 L1144.0 481.9 L1145.1 480.9 L1146.2 479.8 L1147.5 478.8 L1149.4 477.2 L1151.5 475.5 L1153.7 473.7 L1156.0 472.0 L1158.4 470.1 L1160.8 468.3 L1163.3 466.6 L1165.8 464.8 L1168.2 463.1 L1170.6 461.6 L1172.8 460.1 L1175.0 458.8 L1176.6 457.8 L1178.1 456.9 L1179.6 456.0 L1181.0 455.2 L1182.5 454.4 L1183.9 453.7 L1185.3 453.0 L1186.7 452.3 L1188.1 451.7 L1189.6 451.1 L1191.0 450.5 L1192.5 450.0 L1193.9 449.6 L1195.3 449.2 L1196.7 448.8 L1198.2 448.5 L1199.6 448.3 L1201.0 448.0 L1202.4 447.8 L1203.9 447.6 L1205.3 447.5 L1206.7 447.3 L1208.1 447.1 L1209.5 447.0 L1210.8 446.9 L1212.1 446.7 L1213.4 446.6 L1214.7 446.5 L1216.0 446.4 L1217.2 446.3 L1218.5 446.3 L1219.8 446.2 L1221.1 446.2 L1222.4 446.3 L1223.7 446.4 L1225.0 446.5 L1226.4 446.7 L1227.9 446.9 L1229.3 447.2 L1230.8 447.6 L1232.3 448.0 L1233.7 448.4 L1235.2 448.8 L1236.7 449.3 L1238.1 449.8 L1239.6 450.2 L1241.1 450.7 L1242.5 451.2 L1244.0 451.8 L1245.4 452.4 L1246.9 453.0 L1248.4 453.7 L1249.8 454.4 L1251.3 455.1 L1252.7 455.8 L1254.2 456.5 L1255.6 457.1 L1257.1 457.7 L1258.5 458.3 L1260.0 458.8 L1261.4 459.2 L1262.7 459.5 L1264.1 459.9 L1265.4 460.2 L1266.8 460.5 L1268.1 460.8 L1269.5 461.1 L1270.8 461.3 L1272.2 461.5 L1273.5 461.7 L1274.9 461.9 L1276.2 462.0 L1277.6 462.1 L1278.9 462.2 L1280.3 462.3 L1281.6 462.4 L1283.0 462.4 L1284.3 462.5 L1285.7 462.5 L1287.1 462.4 L1288.4 462.4 L1289.8 462.3 L1291.1 462.2 L1292.5 462.0 L1293.9 461.8 L1295.4 461.6 L1296.9 461.3 L1298.3 461.0 L1299.8 460.6 L1301.3 460.3 L1302.7 459.9 L1304.2 459.5 L1305.7 459.0 L1307.1 458.5 L1308.6 458.0 L1310.0 457.5 L1311.5 456.9 L1313.0 456.3 L1314.4 455.5 L1315.9 454.8 L1317.4 454.0 L1318.9 453.2 L1320.3 452.4 L1321.8 451.6 L1323.2 450.9 L1324.6 450.1 L1326.1 449.4 L1327.5 448.8 L1328.8 448.2 L1330.0 447.6 L1331.3 447.1 L1332.5 446.6 L1333.7 446.1 L1334.9 445.6 L1336.2 445.1 L1337.4 444.6 L1338.6 444.2 L1339.9 443.8 L1341.2 443.4 L1342.5 443.0 L1343.9 442.6 L1345.4 442.3 L1346.9 442.0 L1348.4 441.8 L1349.9 441.5 L1351.5 441.3 L1353.0 441.1 L1354.6 440.9 L1356.1 440.7 L1357.7 440.5 L1359.2 440.2 L1360.8 440.0" stroke="#4b9a06" stroke-width="3.6" stroke-dasharray="35.5 35" stroke-dashoffset="0.8"/>
</g>
<g clip-path="url(#pc)" fill="none" stroke-linejoin="round">
<path d="M167.5 430.0 L169.0 430.1 L170.4 430.1 L171.9 430.2 L173.4 430.2 L174.8 430.3 L176.3 430.3 L177.8 430.4 L179.2 430.4 L180.7 430.5 L182.1 430.6 L183.6 430.6 L185.0 430.8 L186.4 430.8 L187.7 430.9 L189.1 431.0 L190.5 431.1 L191.8 431.2 L193.2 431.3 L194.5 431.5 L195.9 431.6 L197.2 431.8 L198.6 432.0 L199.9 432.2 L201.2 432.5 L202.6 432.8 L204.0 433.2 L205.3 433.6 L206.7 434.0 L208.1 434.4 L209.4 434.9 L210.8 435.4 L212.1 435.9 L213.5 436.4 L214.8 436.9 L216.2 437.5 L217.5 438.0 L218.9 438.6 L220.2 439.1 L221.6 439.7 L223.0 440.3 L224.3 440.9 L225.7 441.5 L227.0 442.1 L228.4 442.8 L229.7 443.4 L231.1 444.1 L232.4 444.8 L233.8 445.5 L235.1 446.3 L236.5 447.1 L237.8 447.9 L239.2 448.7 L240.5 449.5 L241.9 450.4 L243.2 451.3 L244.6 452.2 L245.9 453.1 L247.3 454.0 L248.6 454.9 L250.0 455.8 L251.4 456.7 L252.9 457.6 L254.4 458.6 L255.8 459.5 L257.3 460.5 L258.8 461.4 L260.3 462.4 L261.7 463.4 L263.2 464.4 L264.7 465.4 L266.1 466.5 L267.5 467.5 L268.9 468.6 L270.3 469.7 L271.7 470.8 L273.0 471.9 L274.4 473.1 L275.7 474.2 L277.0 475.4 L278.4 476.5 L279.7 477.7 L281.0 478.9 L282.4 480.1 L283.8 481.2 L285.2 482.5 L286.6 483.7 L288.0 484.9 L289.4 486.2 L290.8 487.4 L292.3 488.7 L293.7 489.9 L295.1 491.2 L296.5 492.4 L297.9 493.7 L299.3 495.0 L300.8 496.2 L302.2 497.5 L303.6 498.8 L305.0 500.1 L306.4 501.4 L307.8 502.8 L309.2 504.1 L310.6 505.4 L312.0 506.7 L313.4 508.0 L314.7 509.3 L316.1 510.7 L317.5 512.0 L318.9 513.3 L320.2 514.6 L321.6 516.0 L323.0 517.3 L324.3 518.6 L325.7 520.0 L327.0 521.3 L328.4 522.6 L329.7 524.0 L331.1 525.3 L332.4 526.7 L333.8 528.0 L335.1 529.4 L336.5 530.7 L337.8 532.1 L339.2 533.5 L340.5 534.8 L341.9 536.2 L343.2 537.6 L344.6 538.9 L345.9 540.3 L347.3 541.7 L348.6 543.1 L350.0 544.5 L351.4 545.9 L352.8 547.4 L354.2 548.8 L355.7 550.3 L357.1 551.7 L358.5 553.2 L359.9 554.6 L361.4 556.1 L362.8 557.5 L364.2 559.0 L365.6 560.5 L367.0 562.0 L368.4 563.5 L369.8 565.1 L371.2 566.6 L372.6 568.2 L374.0 569.7 L375.4 571.3 L376.8 572.9 L378.2 574.4 L379.6 576.0 L381.0 577.6 L382.4 579.2 L383.8 580.8 L385.1 582.3 L386.5 583.8 L387.8 585.2 L389.1 586.6 L390.4 588.1 L391.8 589.5 L393.1 591.0 L394.4 592.6 L395.8 594.3 L397.2 596.0 L398.6 597.9 L400.0 600.0 L402.5 603.8 L405.2 608.2 L408.0 612.9 L410.8 618.0 L413.8 623.3 L416.7 628.8 L419.6 634.4 L422.4 640.0 L425.1 645.4 L427.7 650.7 L430.0 655.7 L432.1 660.3 L433.5 663.6 L434.9 666.7 L436.1 669.7 L437.3 672.7 L438.4 675.6 L439.4 678.4 L440.4 681.3 L441.4 684.1 L442.3 687.0 L443.2 689.9 L444.1 692.9 L445.1 696.0 L446.0 699.3 L447.0 702.7 L447.9 706.2 L448.8 709.7 L449.6 713.2 L450.5 716.7 L451.3 720.3 L452.0 723.8 L452.8 727.4 L453.5 730.9 L454.1 734.5 L454.8 738.0 L455.3 741.5 L455.9 745.0 L456.4 748.4 L456.8 751.8 L457.2 755.2 L457.6 758.7 L458.0 762.2 L458.3 765.6 L458.7 769.2 L459.0 772.8 L459.3 776.4 L459.6 780.1 L460.0 784.5 L460.3 788.9 L460.6 793.5 L460.9 798.1 L461.2 802.8 L461.5 807.5 L461.7 812.2 L462.0 816.9 L462.2 821.6 L462.4 826.2 L462.7 830.7 L462.9 835.1 L463.0 839.1 L463.2 843.0 L463.4 846.8 L463.5 850.6 L463.6 854.3 L463.7 858.1 L463.9 861.8 L464.0 865.5 L464.1 869.2 L464.2 873.0 L464.3 876.7 L464.5 880.5" stroke="#0a32c8" stroke-width="3.4"/>
<path d="M468.4 880.5 L468.5 878.3 L468.7 876.2 L468.8 874.1 L469.0 872.0 L469.2 869.9 L469.3 867.8 L469.5 865.6 L469.7 863.5 L469.8 861.3 L470.0 859.1 L470.1 856.9 L470.3 854.6 L470.5 851.7 L470.6 848.5 L470.6 845.1 L470.7 841.7 L470.7 838.2 L470.8 834.7 L470.9 831.3 L471.1 828.1 L471.3 825.2 L471.6 822.7 L472.0 820.6 L472.6 819.0 L472.8 818.5 L473.0 818.0 L473.3 817.6 L473.6 817.2 L473.9 816.9 L474.1 816.6 L474.4 816.3 L474.7 816.1 L475.0 815.9 L475.3 815.8 L475.6 815.7 L475.8 815.7 L476.1 815.8 L476.4 816.1 L476.7 816.5 L477.0 817.0 L477.2 817.5 L477.5 818.2 L477.8 818.8 L478.0 819.5 L478.3 820.2 L478.5 820.9 L478.8 821.6 L479.0 822.2 L479.3 822.9 L479.6 823.7 L479.9 824.5 L480.2 825.4 L480.4 826.3 L480.7 827.2 L481.0 828.0 L481.2 828.8 L481.5 829.4 L481.8 829.9 L482.0 830.2 L482.3 830.3 L482.6 830.1 L482.9 829.7 L483.2 829.1 L483.5 828.2 L483.8 827.3 L484.0 826.2 L484.3 825.0 L484.6 823.7 L484.8 822.5 L485.1 821.2 L485.3 820.1 L485.5 819.0 L485.7 817.7 L485.9 816.5 L486.1 815.3 L486.2 814.0 L486.3 812.7 L486.4 811.4 L486.5 810.1 L486.6 808.7 L486.8 807.3 L486.9 805.8 L487.0 804.3 L487.1 802.8 L487.4 800.5 L487.6 798.1 L487.8 795.6 L488.1 793.0 L488.4 790.3 L488.6 787.5 L488.9 784.8 L489.2 781.9 L489.5 779.1 L489.8 776.2 L490.1 773.3 L490.4 770.4 L490.7 767.1 L491.1 763.7 L491.5 760.2 L491.8 756.7 L492.2 753.1 L492.6 749.6 L493.0 746.0 L493.4 742.4 L493.8 738.8 L494.3 735.3 L494.8 731.8 L495.2 728.3 L495.7 725.1 L496.2 721.9 L496.7 718.7 L497.2 715.6 L497.7 712.4 L498.3 709.3 L498.8 706.2 L499.4 703.1 L499.9 699.9 L500.5 696.8 L501.1 693.6 L501.7 690.5 L502.3 687.2 L502.9 683.9 L503.5 680.6 L504.2 677.4 L504.8 674.1 L505.5 670.8 L506.1 667.5 L506.8 664.2 L507.5 660.9 L508.2 657.5 L509.0 654.1 L509.8 650.6 L510.7 646.7 L511.7 642.7 L512.7 638.7 L513.7 634.5 L514.8 630.4 L515.9 626.2 L517.0 622.0 L518.1 617.9 L519.3 613.8 L520.4 609.8 L521.6 605.9 L522.7 602.1 L523.8 598.8 L524.8 595.6 L525.9 592.5 L527.0 589.4 L528.0 586.4 L529.1 583.4 L530.2 580.3 L531.3 577.3 L532.4 574.3 L533.5 571.2 L534.6 568.1 L535.7 564.9 L536.9 561.3 L538.0 557.6 L539.2 553.9 L540.3 550.2 L541.5 546.4 L542.6 542.6 L543.8 538.8 L545.0 535.0 L546.2 531.2 L547.4 527.4 L548.7 523.7 L550.0 520.0 L551.3 516.4 L552.7 512.8 L554.1 509.2 L555.5 505.6 L557.0 502.0 L558.5 498.4 L560.0 494.9 L561.5 491.4 L563.0 487.9 L564.5 484.4 L566.0 480.9 L567.5 477.5 L568.9 474.3 L570.4 471.0 L571.8 467.8 L573.2 464.5 L574.7 461.3 L576.1 458.1 L577.6 455.0 L579.0 451.9 L580.5 448.8 L582.0 445.8 L583.5 442.9 L585.0 440.0 L586.3 437.6 L587.7 435.2 L589.0 432.9 L590.3 430.6 L591.7 428.3 L593.0 426.1 L594.4 423.9 L595.8 421.7 L597.1 419.6 L598.5 417.4 L599.9 415.2 L601.2 413.0 L602.6 410.8 L603.9 408.7 L605.3 406.5 L606.6 404.3 L607.9 402.2 L609.3 400.1 L610.6 397.9 L612.0 395.8 L613.3 393.7 L614.7 391.6 L616.1 389.5 L617.5 387.5 L618.9 385.5 L620.3 383.6 L621.7 381.7 L623.1 379.8 L624.5 377.9 L625.9 376.0 L627.4 374.1 L628.8 372.2 L630.2 370.4 L631.7 368.6 L633.1 366.8 L634.5 365.0 L635.8 363.4 L637.1 361.7 L638.3 360.1 L639.6 358.5 L640.9 356.9 L642.1 355.3 L643.4 353.8 L644.7 352.2 L646.0 350.7 L647.3 349.2 L648.6 347.7 L650.0 346.2 L651.4 344.8 L652.8 343.4 L654.2 342.0 L655.7 340.6 L657.1 339.2 L658.6 337.8 L660.1 336.5 L661.6 335.1 L663.1 333.8 L664.6 332.5 L666.0 331.2 L667.5 330.0 L668.9 328.9 L670.2 327.7 L671.5 326.7 L672.9 325.6 L674.2 324.5 L675.6 323.5 L676.9 322.4 L678.3 321.4 L679.6 320.4 L681.0 319.4 L682.4 318.5 L683.8 317.5 L685.1 316.6 L686.4 315.7 L687.7 314.8 L689.1 314.0 L690.4 313.1 L691.8 312.3 L693.1 311.5 L694.5 310.7 L695.9 309.9 L697.2 309.1 L698.6 308.3 L700.0 307.5 L701.4 306.7 L702.9 305.9 L704.3 305.2 L705.8 304.4 L707.2 303.6 L708.7 302.9 L710.2 302.1 L711.6 301.4 L713.1 300.7 L714.6 300.0 L716.0 299.4 L717.5 298.8 L718.9 298.2 L720.2 297.6 L721.6 297.1 L722.9 296.6 L724.3 296.0 L725.6 295.6 L727.0 295.1 L728.3 294.6 L729.7 294.2 L731.0 293.8 L732.4 293.4 L733.8 293.0 L735.1 292.7 L736.4 292.3 L737.8 292.0 L739.1 291.7 L740.5 291.5 L741.8 291.2 L743.2 291.0 L744.5 290.8 L745.9 290.6 L747.2 290.4 L748.6 290.2 L750.0 290.0 L751.4 289.8 L752.9 289.6 L754.3 289.5 L755.8 289.3 L757.2 289.1 L758.7 289.0 L760.2 288.9 L761.6 288.8 L763.1 288.7 L764.6 288.7 L766.0 288.7 L767.5 288.8 L769.0 288.9 L770.4 289.0 L771.9 289.2 L773.4 289.4 L774.9 289.6 L776.3 289.9 L777.8 290.2 L779.3 290.5 L780.7 290.8 L782.2 291.2 L783.6 291.6 L785.0 292.0 L786.4 292.4 L787.8 292.9 L789.1 293.5 L790.5 294.0 L791.8 294.6 L793.2 295.2 L794.5 295.8 L795.9 296.4 L797.2 297.0 L798.5 297.6 L799.9 298.2 L801.2 298.8 L802.6 299.3 L804.0 299.8 L805.3 300.3 L806.7 300.8 L808.0 301.3 L809.4 301.8 L810.8 302.3 L812.1 302.8 L813.5 303.3 L814.8 303.8 L816.2 304.4 L817.5 305.0 L818.9 305.6 L820.2 306.3 L821.6 307.0 L823.0 307.7 L824.3 308.4 L825.7 309.1 L827.0 309.9 L828.4 310.6 L829.7 311.4 L831.1 312.2 L832.4 313.0 L833.8 313.8 L835.1 314.6 L836.5 315.4 L837.9 316.3 L839.2 317.1 L840.6 318.0 L841.9 318.9 L843.3 319.8 L844.6 320.7 L846.0 321.6 L847.3 322.6 L848.7 323.5 L850.0 324.5 L851.4 325.5 L852.7 326.5 L854.1 327.6 L855.5 328.6 L856.8 329.7 L858.2 330.7 L859.6 331.8 L860.9 332.9 L862.3 334.0 L863.6 335.2 L864.9 336.3 L866.2 337.5 L867.6 338.8 L869.0 340.0 L870.4 341.4 L871.7 342.7 L873.1 344.0 L874.4 345.4 L875.7 346.8 L877.1 348.2 L878.4 349.6 L879.8 351.0 L881.1 352.4 L882.5 353.8 L883.9 355.2 L885.4 356.7 L886.9 358.1 L888.3 359.6 L889.8 361.1 L891.3 362.6 L892.8 364.1 L894.3 365.6 L895.7 367.1 L897.2 368.6 L898.6 370.2 L900.0 371.8 L901.4 373.4 L902.8 375.0 L904.2 376.6 L905.5 378.3 L906.9 379.9 L908.2 381.6 L909.6 383.3 L910.9 385.0 L912.2 386.6 L913.6 388.3 L914.9 390.0 L916.2 391.8 L917.6 393.5 L919.0 395.2 L920.3 396.9 L921.7 398.7 L923.1 400.4 L924.4 402.2 L925.8 403.9 L927.1 405.7 L928.5 407.5 L929.8 409.3 L931.2 411.1 L932.5 413.0 L933.9 415.0 L935.4 417.0 L936.8 419.1 L938.2 421.1 L939.6 423.2 L941.1 425.3 L942.5 427.4 L943.9 429.5 L945.3 431.6 L946.7 433.7 L948.1 435.9 L949.5 438.0 L950.9 440.1 L952.3 442.2 L953.6 444.2 L955.0 446.3 L956.3 448.3 L957.7 450.4 L959.0 452.5 L960.4 454.7 L961.8 456.9 L963.2 459.3 L964.7 461.8 L966.2 464.5 L968.8 469.0 L971.5 474.0 L974.4 479.3 L977.4 484.9 L980.5 490.7 L983.6 496.7 L986.7 502.8 L989.7 508.8 L992.6 514.8 L995.4 520.6 L998.0 526.2 L1000.3 531.4 L1002.0 535.4 L1003.6 539.3 L1005.0 543.1 L1006.4 546.8 L1007.7 550.5 L1009.0 554.1 L1010.2 557.7 L1011.4 561.4 L1012.6 565.0 L1013.8 568.7 L1015.1 572.5 L1016.4 576.4 L1017.8 580.7 L1019.3 585.2 L1020.8 589.6 L1022.2 594.1 L1023.7 598.7 L1025.2 603.3 L1026.6 607.9 L1028.0 612.5 L1029.4 617.1 L1030.7 621.6 L1032.0 626.2 L1033.2 630.6 L1034.4 634.9 L1035.4 639.1 L1036.5 643.2 L1037.5 647.4 L1038.4 651.5 L1039.4 655.6 L1040.3 659.8 L1041.2 663.9 L1042.0 668.1 L1042.9 672.3 L1043.7 676.6 L1044.5 680.9 L1045.3 685.4 L1046.1 690.0 L1046.8 694.6 L1047.6 699.2 L1048.3 703.8 L1048.9 708.5 L1049.6 713.2 L1050.2 717.9 L1050.8 722.7 L1051.4 727.5 L1052.0 732.3 L1052.5 737.1 L1053.1 742.3 L1053.6 747.5 L1054.1 752.7 L1054.6 757.9 L1055.1 763.2 L1055.5 768.5 L1056.0 773.9 L1056.3 779.3 L1056.7 784.7 L1057.1 790.2 L1057.4 795.8 L1057.7 801.4 L1058.1 807.7 L1058.4 814.1 L1058.6 820.6 L1058.8 827.1 L1059.0 833.8 L1059.2 840.4 L1059.3 847.1 L1059.5 853.8 L1059.6 860.5 L1059.8 867.2 L1060.0 873.9 L1060.2 880.5" stroke="#0a32c8" stroke-width="3.4"/>
<path d="M1065.0 880.5 L1065.3 873.3 L1065.5 865.9 L1065.8 858.3 L1066.1 850.7 L1066.3 843.1 L1066.6 835.5 L1066.9 828.1 L1067.1 820.9 L1067.5 813.9 L1067.8 807.3 L1068.2 801.1 L1068.6 795.4 L1068.9 792.0 L1069.2 788.8 L1069.4 785.9 L1069.7 783.0 L1070.0 780.3 L1070.4 777.7 L1070.7 775.1 L1071.0 772.4 L1071.4 769.8 L1071.8 767.0 L1072.2 764.2 L1072.6 761.2 L1073.1 757.5 L1073.7 753.6 L1074.3 749.7 L1074.9 745.7 L1075.6 741.6 L1076.3 737.5 L1076.9 733.3 L1077.7 729.2 L1078.4 725.1 L1079.1 721.0 L1079.9 717.0 L1080.6 713.0 L1081.4 709.2 L1082.2 705.4 L1082.9 701.6 L1083.7 697.8 L1084.5 694.0 L1085.3 690.3 L1086.2 686.6 L1087.0 682.9 L1087.9 679.3 L1088.8 675.7 L1089.7 672.2 L1090.7 668.8 L1091.5 665.9 L1092.4 663.1 L1093.2 660.3 L1094.1 657.6 L1095.0 654.9 L1095.9 652.2 L1096.8 649.6 L1097.8 646.9 L1098.8 644.4 L1099.8 641.8 L1100.8 639.2 L1101.9 636.7 L1103.0 634.2 L1104.1 631.8 L1105.3 629.4 L1106.5 627.0 L1107.7 624.6 L1108.9 622.2 L1110.1 619.9 L1111.4 617.6 L1112.7 615.3 L1114.1 613.0 L1115.4 610.8 L1116.8 608.6 L1118.2 606.4 L1119.6 604.3 L1121.1 602.2 L1122.6 600.1 L1124.1 598.1 L1125.7 596.1 L1127.2 594.1 L1128.8 592.1 L1130.4 590.2 L1131.9 588.2 L1133.5 586.4 L1135.0 584.5 L1136.4 582.9 L1137.7 581.3 L1139.0 579.7 L1140.4 578.1 L1141.7 576.6 L1143.1 575.1 L1144.4 573.6 L1145.8 572.1 L1147.1 570.6 L1148.5 569.2 L1149.9 567.7 L1151.2 566.2 L1152.6 564.8 L1154.0 563.4 L1155.4 562.0 L1156.9 560.6 L1158.3 559.2 L1159.7 557.8 L1161.1 556.4 L1162.6 555.1 L1164.0 553.7 L1165.4 552.3 L1166.8 550.9 L1168.2 549.5 L1169.7 548.1 L1171.0 546.7 L1172.4 545.2 L1173.8 543.8 L1175.2 542.4 L1176.6 540.9 L1178.0 539.5 L1179.4 538.1 L1180.8 536.7 L1182.2 535.3 L1183.6 533.9 L1185.0 532.5 L1186.4 531.2 L1187.8 529.8 L1189.2 528.5 L1190.7 527.2 L1192.1 525.9 L1193.5 524.7 L1195.0 523.4 L1196.4 522.1 L1197.8 520.8 L1199.2 519.5 L1200.6 518.3 L1202.0 517.0 L1203.3 515.8 L1204.6 514.6 L1205.9 513.3 L1207.2 512.1 L1208.4 510.9 L1209.7 509.7 L1211.0 508.5 L1212.3 507.3 L1213.5 506.1 L1214.8 504.9 L1216.2 503.7 L1217.5 502.5 L1218.9 501.3 L1220.3 500.0 L1221.8 498.8 L1223.2 497.6 L1224.7 496.4 L1226.2 495.2 L1227.7 493.9 L1229.2 492.7 L1230.6 491.5 L1232.1 490.4 L1233.6 489.2 L1235.0 488.0 L1236.4 486.9 L1237.7 485.8 L1239.1 484.7 L1240.4 483.6 L1241.8 482.5 L1243.1 481.5 L1244.5 480.4 L1245.8 479.3 L1247.2 478.3 L1248.5 477.2 L1249.9 476.1 L1251.2 475.0 L1252.6 473.9 L1254.0 472.7 L1255.4 471.5 L1256.8 470.4 L1258.2 469.2 L1259.6 468.0 L1261.0 466.8 L1262.4 465.7 L1263.8 464.5 L1265.2 463.4 L1266.6 462.3 L1268.0 461.2 L1269.4 460.2 L1270.8 459.2 L1272.2 458.2 L1273.6 457.2 L1275.0 456.3 L1276.4 455.3 L1277.9 454.4 L1279.3 453.5 L1280.7 452.6 L1282.1 451.7 L1283.6 450.8 L1285.0 450.0 L1286.3 449.2 L1287.7 448.5 L1289.0 447.8 L1290.4 447.1 L1291.7 446.4 L1293.1 445.8 L1294.5 445.1 L1295.8 444.5 L1297.2 443.9 L1298.5 443.3 L1299.9 442.6 L1301.2 442.0 L1302.6 441.4 L1303.9 440.7 L1305.3 440.1 L1306.6 439.5 L1308.0 438.9 L1309.3 438.2 L1310.7 437.6 L1312.0 437.1 L1313.4 436.5 L1314.7 436.0 L1316.1 435.5 L1317.5 435.0 L1318.9 434.6 L1320.3 434.2 L1321.7 433.8 L1323.2 433.4 L1324.6 433.1 L1326.1 432.8 L1327.5 432.5 L1329.0 432.2 L1330.4 432.0 L1331.8 431.7 L1333.2 431.5 L1334.5 431.2 L1335.6 431.1 L1336.8 430.9 L1337.9 430.7 L1338.9 430.5 L1340.0 430.4 L1341.1 430.2 L1342.2 430.1 L1343.2 430.0 L1344.3 429.8 L1345.3 429.7 L1346.4 429.6 L1347.5 429.5 L1348.6 429.4 L1349.7 429.3 L1350.8 429.2 L1351.9 429.2 L1353.0 429.1 L1354.1 429.1 L1355.2 429.0 L1356.3 429.0 L1357.4 428.9 L1358.5 428.9 L1359.6 428.8 L1360.8 428.8" stroke="#0a32c8" stroke-width="3.4"/>
</g>
<path d="M160.8 430.0 h13.8 M167.7 423.1 v13.8 M194.3 432.5 h13.8 M201.2 425.6 v13.8 M226.8 445.5 h13.8 M233.8 438.6 v13.8 M260.6 467.5 h13.8 M267.5 460.6 v13.8 M293.9 496.2 h13.8 M300.8 489.4 v13.8 M326.9 528.0 h13.8 M333.8 521.1 v13.8 M360.5 562.4 h13.8 M367.4 555.5 v13.8 M392.8 599.6 h13.8 M399.7 592.7 v13.8 M425.2 660.3 h13.8 M432.1 653.4 v13.8 M463.4 854.6 h13.8 M470.3 847.7 v13.8 M494.8 690.5 h13.8 M501.7 683.6 v13.8 M528.4 566.0 h13.8 M535.3 559.1 v13.8 M561.4 475.7 h13.8 M568.3 468.8 v13.8 M594.4 413.0 h13.8 M601.2 406.1 v13.8 M627.6 365.0 h13.8 M634.5 358.1 v13.8 M660.6 330.0 h13.8 M667.5 323.1 v13.8 M693.1 307.5 h13.8 M700.0 300.6 v13.8 M726.9 293.0 h13.8 M733.8 286.1 v13.8 M760.6 288.8 h13.8 M767.5 281.9 v13.8 M794.4 298.8 h13.8 M801.2 291.9 v13.8 M826.9 313.8 h13.8 M833.8 306.9 v13.8 M859.4 337.5 h13.8 M866.2 330.6 v13.8 M893.1 371.8 h13.8 M900.0 364.9 v13.8 M925.6 413.0 h13.8 M932.5 406.1 v13.8 M959.4 464.5 h13.8 M966.2 457.6 v13.8 M993.4 531.4 h13.8 M1000.3 524.5 v13.8 M1026.4 630.9 h13.8 M1033.3 624.0 v13.8 M1061.7 795.4 h13.8 M1068.6 788.5 v13.8 M1095.1 636.5 h13.8 M1102.0 629.6 v13.8 M1128.1 584.5 h13.8 M1135.0 577.6 v13.8 M1161.3 549.5 h13.8 M1168.2 542.6 v13.8 M1195.3 516.8 h13.8 M1202.2 509.9 v13.8 M1228.1 488.0 h13.8 M1235.0 481.1 v13.8 M1261.1 461.2 h13.8 M1268.0 454.4 v13.8 M1294.3 442.0 h13.8 M1301.2 435.1 v13.8 M1327.6 431.2 h13.8 M1334.5 424.4 v13.8" fill="none" stroke="#0a32c8" stroke-width="2"/>
<g clip-path="url(#pc)" fill="none" stroke-linejoin="round">
<path d="M167.5 482.5 L169.0 482.9 L170.4 483.3 L171.9 483.7 L173.4 484.1 L174.8 484.4 L176.3 484.8 L177.7 485.2 L179.2 485.6 L180.7 486.1 L182.1 486.5 L183.6 487.0 L185.0 487.5 L186.5 488.1 L188.0 488.7 L189.6 489.5 L191.1 490.2 L192.7 491.0 L194.2 491.7 L195.7 492.5 L197.2 493.2 L198.6 493.9 L200.0 494.5 L201.3 495.1 L202.5 495.5 L203.2 495.7 L203.9 496.0 L204.5 496.2 L205.2 496.3 L205.8 496.5 L206.4 496.7 L206.9 496.8 L207.5 496.9 L208.1 497.0 L208.7 497.0 L209.4 497.0 L210.0 497.0 L210.8 496.9 L211.6 496.8 L212.4 496.7 L213.2 496.6 L214.1 496.4 L214.9 496.1 L215.8 495.9 L216.6 495.5 L217.5 495.2 L218.3 494.7 L219.2 494.3 L220.0 493.8 L221.2 492.9 L222.3 491.9 L223.5 490.7 L224.7 489.4 L225.8 488.1 L227.0 486.6 L228.1 485.1 L229.3 483.6 L230.4 482.1 L231.5 480.5 L232.6 479.0 L233.8 477.5 L234.9 475.9 L236.0 474.3 L237.1 472.6 L238.2 470.9 L239.3 469.2 L240.4 467.5 L241.5 465.8 L242.6 464.0 L243.7 462.3 L244.9 460.7 L246.2 459.1 L247.5 457.5 L248.9 455.9 L250.4 454.3 L252.0 452.7 L253.6 451.2 L255.2 449.6 L256.9 448.1 L258.5 446.7 L260.2 445.2 L261.9 443.8 L263.6 442.5 L265.3 441.2 L267.0 440.0 L268.5 439.0 L270.0 438.0 L271.5 437.0 L273.0 436.0 L274.5 435.1 L276.0 434.3 L277.5 433.4 L279.0 432.6 L280.5 431.9 L282.0 431.2 L283.5 430.6 L285.0 430.0 L286.3 429.5 L287.5 429.1 L288.8 428.7 L290.0 428.4 L291.3 428.1 L292.5 427.8 L293.8 427.6 L295.0 427.4 L296.3 427.2 L297.5 427.0 L298.7 426.9 L300.0 426.8 L301.2 426.7 L302.5 426.6 L303.7 426.6 L304.9 426.6 L306.2 426.6 L307.4 426.6 L308.7 426.7 L309.9 426.8 L311.2 426.9 L312.4 427.1 L313.7 427.3 L315.0 427.5 L316.5 427.8 L318.0 428.1 L319.5 428.5 L321.0 428.9 L322.6 429.3 L324.1 429.8 L325.7 430.3 L327.2 430.8 L328.8 431.4 L330.3 432.0 L331.8 432.6 L333.2 433.2 L334.7 434.0 L336.1 434.7 L337.6 435.5 L339.0 436.4 L340.4 437.2 L341.7 438.1 L343.1 439.1 L344.5 440.0 L345.8 440.9 L347.2 441.9 L348.6 442.8 L350.0 443.8 L351.5 444.7 L352.9 445.6 L354.4 446.6 L355.9 447.5 L357.3 448.5 L358.8 449.5 L360.3 450.4 L361.7 451.4 L363.2 452.5 L364.6 453.5 L366.1 454.6 L367.5 455.8 L369.0 457.0 L370.5 458.3 L372.0 459.6 L373.5 461.0 L375.0 462.4 L376.5 463.8 L377.9 465.2 L379.4 466.7 L380.8 468.1 L382.2 469.6 L383.6 471.0 L385.0 472.5 L386.3 473.9 L387.6 475.3 L388.9 476.7 L390.2 478.1 L391.5 479.5 L392.7 480.9 L394.0 482.3 L395.2 483.8 L396.4 485.3 L397.6 486.8 L398.8 488.4 L400.0 490.0 L401.3 491.9 L402.7 493.9 L404.0 495.9 L405.3 498.0 L406.6 500.1 L407.9 502.3 L409.1 504.5 L410.4 506.6 L411.6 508.8 L412.7 510.9 L413.9 513.0 L415.0 515.0 L415.9 516.7 L416.9 518.4 L417.7 520.1 L418.6 521.8 L419.4 523.5 L420.3 525.1 L421.1 526.8 L421.9 528.4 L422.7 530.1 L423.4 531.7 L424.2 533.4 L425.0 535.0 L425.7 536.6 L426.5 538.1 L427.2 539.7 L427.9 541.2 L428.6 542.7 L429.3 544.3 L430.0 545.8 L430.7 547.4 L431.3 548.9 L432.0 550.5 L432.6 552.1 L433.2 553.8 L433.9 555.5 L434.6 557.3 L435.2 559.1 L435.9 561.0 L436.5 562.8 L437.1 564.7 L437.7 566.5 L438.3 568.4 L438.9 570.4 L439.5 572.4 L440.0 574.4 L440.6 576.4 L441.2 578.8 L441.9 581.4 L442.5 583.9 L443.1 586.6 L443.7 589.2 L444.3 591.9 L444.9 594.7 L445.5 597.4 L446.0 600.1 L446.5 602.8 L447.1 605.5 L447.6 608.2 L448.1 610.8 L448.6 613.5 L449.1 616.1 L449.5 618.8 L450.0 621.4 L450.4 624.1 L450.8 626.7 L451.3 629.4 L451.7 632.0 L452.1 634.7 L452.5 637.3 L452.9 639.9 L453.3 642.4 L453.7 644.9 L454.1 647.5 L454.5 650.0 L454.8 652.5 L455.2 654.9 L455.6 657.4 L455.9 659.9 L456.3 662.4 L456.6 664.9 L457.0 667.4 L457.3 669.9 L457.6 672.4 L457.9 674.8 L458.3 677.3 L458.6 679.7 L458.9 682.2 L459.2 684.6 L459.5 687.1 L459.7 689.6 L460.0 692.1 L460.3 694.6 L460.5 697.2 L460.8 699.9 L461.1 703.0 L461.3 706.2 L461.6 709.4 L461.8 712.7 L462.1 716.0 L462.3 719.3 L462.5 722.7 L462.7 726.1 L462.9 729.5 L463.1 733.0 L463.3 736.5 L463.5 740.0 L463.7 743.9 L463.9 747.8 L464.0 751.8 L464.2 755.7 L464.4 759.7 L464.5 763.7 L464.6 767.8 L464.8 772.0 L464.9 776.3 L465.0 780.7 L465.1 785.3 L465.2 790.0 L465.3 796.6 L465.4 803.6 L465.5 810.8 L465.6 818.3 L465.7 826.0 L465.7 833.8 L465.8 841.7 L465.8 849.7 L465.8 857.6 L465.9 865.5 L465.9 873.3 L466.0 881.0" stroke="#ff0000" stroke-width="3.4"/>
<path d="M467.7 880.5 L467.7 872.6 L467.8 864.8 L467.8 857.0 L467.8 849.2 L467.9 841.4 L467.9 833.6 L467.9 825.8 L467.9 818.0 L468.0 810.2 L468.0 802.3 L468.0 794.5 L468.0 786.6 L468.1 778.6 L468.1 770.5 L468.1 762.5 L468.1 754.4 L468.2 746.3 L468.2 738.2 L468.2 730.1 L468.3 722.0 L468.3 713.9 L468.3 705.8 L468.3 697.6 L468.4 689.5 L468.4 681.1 L468.4 672.4 L468.3 663.6 L468.3 654.7 L468.3 645.9 L468.3 637.0 L468.3 628.3 L468.3 619.8 L468.3 611.6 L468.4 603.7 L468.5 596.2 L468.7 589.1 L468.8 584.6 L469.0 580.4 L469.2 576.3 L469.4 572.3 L469.6 568.5 L469.8 564.8 L470.0 561.1 L470.2 557.5 L470.5 553.9 L470.7 550.2 L471.0 546.4 L471.2 542.5 L471.5 538.4 L471.8 534.2 L472.0 529.9 L472.3 525.7 L472.5 521.4 L472.8 517.1 L473.1 512.9 L473.4 508.7 L473.8 504.5 L474.2 500.4 L474.6 496.4 L475.0 492.5 L475.4 489.1 L475.8 485.8 L476.2 482.4 L476.7 479.1 L477.1 475.8 L477.6 472.6 L478.1 469.4 L478.6 466.4 L479.2 463.4 L479.8 460.5 L480.5 457.7 L481.2 455.0 L481.8 453.1 L482.5 451.2 L483.1 449.4 L483.8 447.7 L484.5 446.0 L485.2 444.4 L486.0 442.8 L486.7 441.2 L487.5 439.7 L488.3 438.1 L489.2 436.6 L490.0 435.0 L490.8 433.5 L491.7 432.0 L492.6 430.5 L493.5 429.1 L494.4 427.7 L495.3 426.2 L496.2 424.8 L497.2 423.4 L498.2 422.0 L499.2 420.5 L500.2 419.0 L501.2 417.5 L502.5 415.7 L503.7 413.9 L505.0 412.0 L506.3 410.1 L507.7 408.2 L509.0 406.3 L510.4 404.4 L511.8 402.5 L513.2 400.6 L514.6 398.7 L516.1 396.8 L517.5 395.0 L519.0 393.2 L520.4 391.4 L521.9 389.5 L523.4 387.7 L525.0 385.9 L526.5 384.1 L528.1 382.4 L529.6 380.6 L531.2 378.9 L532.7 377.1 L534.2 375.4 L535.8 373.8 L537.2 372.2 L538.6 370.7 L539.9 369.2 L541.3 367.7 L542.7 366.2 L544.1 364.7 L545.5 363.3 L546.9 361.9 L548.3 360.4 L549.7 359.0 L551.1 357.6 L552.5 356.2 L553.8 354.9 L555.2 353.6 L556.5 352.3 L557.9 351.0 L559.2 349.7 L560.5 348.4 L561.9 347.2 L563.3 346.0 L564.6 344.7 L566.0 343.5 L567.4 342.4 L568.8 341.2 L570.1 340.2 L571.4 339.2 L572.7 338.2 L574.0 337.2 L575.4 336.2 L576.7 335.3 L578.1 334.3 L579.4 333.4 L580.8 332.5 L582.2 331.7 L583.6 330.8 L585.0 330.0 L586.4 329.2 L587.9 328.4 L589.3 327.6 L590.8 326.8 L592.3 326.0 L593.8 325.3 L595.3 324.6 L596.8 323.9 L598.2 323.3 L599.7 322.7 L601.1 322.2 L602.5 321.8 L603.6 321.4 L604.7 321.2 L605.8 320.9 L606.8 320.7 L607.9 320.5 L608.9 320.4 L610.0 320.3 L611.0 320.2 L612.0 320.1 L613.0 320.0 L614.0 320.0 L615.0 320.0 L615.9 320.0 L616.7 320.0 L617.6 320.1 L618.4 320.1 L619.3 320.2 L620.1 320.3 L620.9 320.4 L621.7 320.5 L622.6 320.7 L623.4 320.8 L624.2 321.0 L625.0 321.2 L625.8 321.5 L626.7 321.7 L627.5 322.0 L628.4 322.3 L629.2 322.6 L630.0 322.9 L630.9 323.2 L631.7 323.6 L632.5 324.0 L633.3 324.5 L634.2 325.0 L635.0 325.5 L636.1 326.2 L637.1 327.0 L638.2 327.9 L639.3 328.8 L640.4 329.8 L641.5 330.8 L642.5 331.8 L643.6 332.9 L644.6 334.0 L645.6 335.2 L646.6 336.3 L647.5 337.5 L648.5 338.8 L649.4 340.1 L650.3 341.5 L651.1 342.8 L652.0 344.3 L652.8 345.7 L653.6 347.2 L654.4 348.7 L655.2 350.2 L655.9 351.8 L656.7 353.4 L657.5 355.0 L658.4 356.9 L659.3 358.8 L660.2 360.8 L661.1 362.8 L661.9 364.9 L662.8 367.0 L663.6 369.1 L664.4 371.3 L665.2 373.4 L666.0 375.6 L666.8 377.8 L667.5 380.0 L668.2 382.4 L669.0 384.8 L669.6 387.2 L670.3 389.7 L670.9 392.2 L671.5 394.7 L672.1 397.2 L672.7 399.7 L673.3 402.3 L673.9 404.9 L674.4 407.4 L675.0 410.0 L675.6 412.7 L676.2 415.4 L676.8 418.1 L677.5 420.8 L678.1 423.6 L678.6 426.3 L679.2 429.1 L679.8 431.9 L680.3 434.7 L680.8 437.5 L681.3 440.4 L681.7 443.3 L682.1 446.5 L682.5 449.8 L682.8 453.1 L683.1 456.5 L683.4 459.9 L683.6 463.3 L683.9 466.7 L684.1 470.1 L684.3 473.5 L684.5 476.8 L684.8 480.1 L685.0 483.3 L685.2 486.2 L685.5 489.2 L685.7 492.1 L685.9 495.0 L686.1 497.9 L686.3 500.8 L686.6 503.6 L686.8 506.4 L687.0 509.1 L687.1 511.7 L687.3 514.3 L687.5 516.7 L687.6 518.4 L687.7 520.1 L687.8 521.8 L687.9 523.5 L687.9 525.1 L688.0 526.6 L688.1 528.2 L688.2 529.6 L688.3 531.1 L688.4 532.4 L688.5 533.7 L688.7 535.0 L688.8 535.8 L689.0 536.6 L689.2 537.4 L689.3 538.1 L689.5 538.8 L689.7 539.5 L689.9 540.1 L690.1 540.8 L690.3 541.5 L690.4 542.1 L690.6 542.8 L690.8 543.5" stroke="#ff0000" stroke-width="3.4"/>
<path d="M690.8 543.5 L691.0 541.8 L691.2 540.2 L691.4 538.6 L691.7 537.0 L691.9 535.3 L692.1 533.7 L692.3 532.1 L692.5 530.4 L692.7 528.7 L692.9 527.0 L693.1 525.2 L693.3 523.3 L693.5 520.8 L693.8 518.2 L694.0 515.6 L694.2 512.8 L694.4 510.0 L694.6 507.2 L694.8 504.3 L695.0 501.4 L695.2 498.5 L695.4 495.6 L695.6 492.8 L695.8 490.0 L696.0 487.2 L696.2 484.4 L696.4 481.6 L696.6 478.8 L696.8 476.0 L697.0 473.2 L697.2 470.4 L697.4 467.6 L697.6 464.9 L697.8 462.1 L698.1 459.4 L698.3 456.7 L698.5 454.2 L698.7 451.7 L699.0 449.2 L699.2 446.7 L699.4 444.3 L699.6 441.8 L699.9 439.4 L700.1 437.0 L700.4 434.6 L700.6 432.2 L700.9 429.8 L701.2 427.5 L701.5 425.4 L701.8 423.2 L702.1 421.1 L702.4 419.0 L702.7 416.9 L703.0 414.8 L703.3 412.7 L703.6 410.7 L704.0 408.8 L704.3 406.9 L704.7 405.1 L705.0 403.3 L705.3 402.1 L705.5 400.9 L705.8 399.8 L706.0 398.8 L706.3 397.8 L706.6 396.8 L706.8 395.8 L707.1 394.7 L707.4 393.6 L707.7 392.5 L708.0 391.3 L708.3 390.0 L708.8 387.8 L709.3 385.4 L709.7 382.8 L710.2 380.0 L710.7 377.2 L711.2 374.3 L711.8 371.4 L712.4 368.5 L713.0 365.6 L713.6 362.8 L714.3 360.1 L715.0 357.5 L715.7 355.2 L716.4 353.0 L717.2 350.8 L718.0 348.6 L718.8 346.4 L719.7 344.2 L720.5 342.1 L721.4 340.1 L722.3 338.1 L723.2 336.1 L724.1 334.3 L725.0 332.5 L725.7 331.2 L726.4 329.9 L727.1 328.7 L727.8 327.5 L728.5 326.3 L729.2 325.2 L729.9 324.1 L730.6 323.0 L731.4 321.9 L732.1 320.8 L732.9 319.8 L733.8 318.8 L734.6 317.7 L735.5 316.7 L736.4 315.7 L737.3 314.7 L738.2 313.7 L739.2 312.7 L740.2 311.8 L741.1 310.8 L742.1 310.0 L743.1 309.1 L744.0 308.3 L745.0 307.5 L745.8 306.9 L746.6 306.2 L747.4 305.6 L748.3 305.0 L749.1 304.4 L749.9 303.9 L750.7 303.4 L751.5 302.9 L752.4 302.4 L753.2 302.0 L754.1 301.6 L755.0 301.2 L755.9 300.9 L756.8 300.6 L757.7 300.3 L758.6 300.1 L759.5 299.9 L760.5 299.7 L761.4 299.5 L762.4 299.4 L763.3 299.3 L764.3 299.3 L765.3 299.4 L766.2 299.5 L767.5 299.7 L768.8 300.1 L770.2 300.6 L771.6 301.1 L773.0 301.8 L774.4 302.4 L775.8 303.2 L777.2 304.0 L778.5 304.8 L779.8 305.6 L781.0 306.5 L782.1 307.3 L783.0 308.0 L783.9 308.8 L784.7 309.6 L785.4 310.4 L786.2 311.3 L786.9 312.2 L787.6 313.0 L788.3 313.9 L789.0 314.8 L789.7 315.8 L790.4 316.7 L791.1 317.6 L791.9 318.6 L792.8 319.6 L793.6 320.6 L794.4 321.6 L795.3 322.7 L796.1 323.7 L797.0 324.8 L797.8 325.9 L798.6 327.0 L799.4 328.1 L800.1 329.2 L800.8 330.4 L801.5 331.7 L802.2 333.0 L802.8 334.3 L803.5 335.7 L804.1 337.0 L804.6 338.4 L805.2 339.8 L805.7 341.3 L806.3 342.7 L806.8 344.2 L807.4 345.6 L807.9 347.1 L808.5 348.7 L809.1 350.4 L809.6 352.1 L810.2 353.8 L810.7 355.6 L811.2 357.3 L811.8 359.1 L812.3 360.8 L812.8 362.6 L813.3 364.3 L813.8 366.0 L814.3 367.7 L814.8 369.2 L815.2 370.8 L815.6 372.4 L816.1 373.9 L816.5 375.4 L816.9 377.0 L817.4 378.5 L817.8 380.0 L818.2 381.4 L818.6 382.9 L819.0 384.3 L819.4 385.7 L819.7 386.8 L820.1 387.9 L820.4 389.0 L820.8 390.0 L821.1 391.1 L821.4 392.1 L821.8 393.1 L822.1 394.1 L822.4 395.2 L822.7 396.3 L823.0 397.4 L823.3 398.6 L823.7 400.2 L824.0 401.8 L824.3 403.5 L824.6 405.2 L824.9 407.0 L825.2 408.8 L825.5 410.6 L825.8 412.5 L826.0 414.4 L826.3 416.2 L826.6 418.1 L826.9 420.0 L827.2 422.1 L827.6 424.2 L827.9 426.4 L828.2 428.6 L828.5 430.8 L828.9 433.1 L829.2 435.3 L829.5 437.6 L829.8 439.8 L830.1 442.0 L830.4 444.3 L830.7 446.5 L831.0 448.7 L831.2 450.9 L831.5 453.2 L831.8 455.4 L832.0 457.6 L832.2 459.8 L832.5 462.1 L832.7 464.3 L833.0 466.5 L833.2 468.7 L833.4 470.8 L833.7 473.0 L833.9 475.1 L834.2 477.2 L834.4 479.5 L834.6 481.7 L834.8 483.9 L835.0 486.1 L835.2 488.2 L835.5 490.3 L835.7 492.1 L836.0 493.8 L836.3 495.3 L836.6 496.5 L836.7 496.9 L836.9 497.3 L837.0 497.7 L837.2 498.0 L837.4 498.3 L837.5 498.6 L837.7 498.8 L837.9 499.1 L838.0 499.4 L838.2 499.6 L838.3 499.9 L838.5 500.2" stroke="#ff0000" stroke-width="3.4"/>
<path d="M838.5 500.2 L838.7 499.9 L838.9 499.6 L839.0 499.4 L839.2 499.1 L839.4 498.8 L839.6 498.6 L839.8 498.3 L839.9 498.0 L840.1 497.7 L840.3 497.3 L840.4 496.9 L840.6 496.5 L840.9 495.3 L841.2 493.8 L841.5 492.1 L841.7 490.2 L841.9 488.1 L842.1 486.0 L842.3 483.8 L842.4 481.5 L842.6 479.3 L842.8 477.1 L843.0 474.9 L843.2 472.9 L843.4 470.9 L843.7 469.0 L843.9 467.0 L844.1 465.1 L844.4 463.1 L844.6 461.1 L844.9 459.2 L845.1 457.2 L845.4 455.3 L845.7 453.3 L845.9 451.4 L846.2 449.4 L846.5 447.4 L846.8 445.5 L847.0 443.5 L847.3 441.6 L847.6 439.6 L847.9 437.6 L848.2 435.7 L848.5 433.7 L848.9 431.8 L849.2 429.8 L849.5 427.9 L849.9 425.9 L850.3 423.9 L850.7 421.9 L851.1 419.9 L851.5 417.9 L851.9 415.9 L852.3 414.0 L852.8 412.0 L853.2 410.0 L853.6 408.1 L854.1 406.1 L854.5 404.3 L855.0 402.4 L855.4 400.8 L855.8 399.2 L856.2 397.6 L856.6 396.0 L857.0 394.4 L857.4 392.9 L857.8 391.3 L858.2 389.8 L858.7 388.3 L859.1 386.9 L859.6 385.4 L860.1 384.0 L860.6 382.8 L861.0 381.5 L861.5 380.4 L862.0 379.2 L862.5 378.1 L863.0 376.9 L863.5 375.8 L864.0 374.7 L864.6 373.5 L865.1 372.4 L865.7 371.2 L866.2 370.0 L866.9 368.6 L867.6 367.2 L868.3 365.7 L868.9 364.2 L869.7 362.7 L870.4 361.2 L871.1 359.7 L871.9 358.2 L872.6 356.7 L873.4 355.3 L874.2 353.9 L875.0 352.5 L875.8 351.3 L876.5 350.0 L877.3 348.8 L878.0 347.6 L878.8 346.4 L879.6 345.3 L880.4 344.1 L881.3 343.0 L882.2 341.9 L883.1 340.8 L884.0 339.8 L885.0 338.8 L886.1 337.7 L887.2 336.7 L888.4 335.6 L889.6 334.6 L890.8 333.6 L892.1 332.7 L893.4 331.8 L894.7 330.9 L896.0 330.1 L897.4 329.3 L898.7 328.6 L900.0 328.0 L901.2 327.5 L902.5 327.0 L903.7 326.6 L905.0 326.2 L906.3 325.9 L907.6 325.6 L908.9 325.3 L910.2 325.1 L911.4 324.9 L912.7 324.7 L913.8 324.6 L915.0 324.5 L915.9 324.4 L916.8 324.4 L917.7 324.4 L918.5 324.4 L919.3 324.4 L920.2 324.4 L921.0 324.5 L921.8 324.6 L922.6 324.7 L923.4 324.8 L924.2 324.9 L925.0 325.0 L925.7 325.1 L926.5 325.3 L927.2 325.4 L927.9 325.6 L928.6 325.8 L929.3 326.0 L930.0 326.2 L930.7 326.4 L931.4 326.6 L932.2 326.9 L932.9 327.2 L933.8 327.5 L934.9 328.0 L936.2 328.5 L937.5 329.1 L938.8 329.7 L940.2 330.4 L941.6 331.1 L943.0 331.8 L944.4 332.5 L945.9 333.3 L947.3 334.0 L948.6 334.8 L950.0 335.5 L951.4 336.2 L952.7 337.0 L954.1 337.7 L955.5 338.4 L956.8 339.2 L958.2 340.0 L959.6 340.7 L960.9 341.5 L962.3 342.4 L963.6 343.2 L964.9 344.1 L966.2 345.0 L967.6 346.0 L969.0 347.1 L970.4 348.1 L971.7 349.3 L973.1 350.4 L974.4 351.6 L975.8 352.7 L977.1 353.9 L978.4 355.1 L979.8 356.3 L981.1 357.6 L982.5 358.8 L983.9 360.0 L985.4 361.3 L986.9 362.6 L988.3 363.8 L989.8 365.1 L991.3 366.4 L992.7 367.8 L994.2 369.1 L995.7 370.4 L997.1 371.8 L998.6 373.1 L1000.0 374.5 L1001.5 375.9 L1003.0 377.4 L1004.5 378.8 L1006.0 380.2 L1007.4 381.7 L1008.9 383.2 L1010.4 384.7 L1011.8 386.2 L1013.3 387.7 L1014.7 389.3 L1016.1 390.9 L1017.5 392.5 L1019.0 394.3 L1020.4 396.1 L1021.9 397.9 L1023.3 399.8 L1024.7 401.7 L1026.2 403.6 L1027.5 405.6 L1028.9 407.5 L1030.2 409.4 L1031.4 411.3 L1032.6 413.2 L1033.8 415.0 L1034.6 416.5 L1035.5 418.0 L1036.3 419.4 L1037.1 420.9 L1037.8 422.3 L1038.6 423.7 L1039.3 425.1 L1039.9 426.6 L1040.6 428.0 L1041.2 429.5 L1041.9 431.0 L1042.5 432.5 L1043.1 434.1 L1043.7 435.7 L1044.3 437.3 L1044.9 439.0 L1045.4 440.6 L1046.0 442.3 L1046.5 444.0 L1047.0 445.6 L1047.4 447.3 L1047.9 449.1 L1048.3 450.8 L1048.8 452.5 L1049.2 454.3 L1049.5 456.1 L1049.9 458.0 L1050.2 459.8 L1050.6 461.7 L1050.9 463.6 L1051.1 465.5 L1051.4 467.3 L1051.7 469.2 L1052.0 471.2 L1052.2 473.1 L1052.5 475.0 L1052.8 477.0 L1053.1 479.0 L1053.4 481.0 L1053.6 483.0 L1053.9 485.0 L1054.2 487.0 L1054.4 489.1 L1054.7 491.2 L1054.9 493.3 L1055.1 495.5 L1055.3 497.7 L1055.5 500.0 L1055.7 503.0 L1055.8 506.1 L1056.0 509.2 L1056.0 512.4 L1056.1 515.7 L1056.1 519.0 L1056.2 522.4 L1056.2 525.9 L1056.3 529.4 L1056.3 533.0 L1056.4 536.6 L1056.5 540.3 L1056.7 544.8 L1056.9 549.5 L1057.2 554.3 L1057.4 559.1 L1057.7 564.1 L1057.9 569.1 L1058.2 574.2 L1058.5 579.3 L1058.7 584.6 L1058.9 589.8 L1059.2 595.2 L1059.4 600.5 L1059.6 606.8 L1059.7 613.1 L1059.9 619.6 L1060.1 626.1 L1060.2 632.7 L1060.3 639.4 L1060.4 646.2 L1060.6 653.0 L1060.7 659.9 L1060.8 666.8 L1060.9 673.8 L1061.0 680.9 L1061.1 688.8 L1061.2 697.0 L1061.2 705.2 L1061.3 713.5 L1061.4 721.9 L1061.5 730.4 L1061.5 738.9 L1061.6 747.4 L1061.6 756.0 L1061.7 764.5 L1061.7 772.9 L1061.8 781.3 L1061.8 789.6 L1061.9 797.9 L1061.9 806.1 L1061.9 814.4 L1062.0 822.7 L1062.0 830.9 L1062.0 839.2 L1062.0 847.5 L1062.1 855.7 L1062.1 864.0 L1062.1 872.2 L1062.2 880.5" stroke="#ff0000" stroke-width="3.4"/>
<path d="M1063.4 880.5 L1063.5 873.9 L1063.6 867.2 L1063.8 860.5 L1063.9 853.7 L1064.0 847.0 L1064.2 840.3 L1064.3 833.6 L1064.4 827.0 L1064.6 820.4 L1064.7 813.9 L1064.8 807.6 L1065.0 801.4 L1065.1 796.0 L1065.2 790.7 L1065.3 785.4 L1065.4 780.2 L1065.5 775.0 L1065.6 769.9 L1065.8 764.8 L1065.9 759.9 L1066.0 755.0 L1066.2 750.3 L1066.4 745.6 L1066.6 741.1 L1066.8 737.7 L1067.0 734.3 L1067.2 731.1 L1067.4 728.0 L1067.6 724.9 L1067.8 721.9 L1068.1 718.9 L1068.3 715.8 L1068.6 712.8 L1068.8 709.6 L1069.1 706.3 L1069.4 703.0 L1069.7 698.7 L1070.1 694.4 L1070.5 689.9 L1070.8 685.4 L1071.2 680.7 L1071.6 676.1 L1072.1 671.4 L1072.5 666.7 L1073.0 662.1 L1073.5 657.5 L1074.0 653.1 L1074.6 648.7 L1075.2 644.8 L1075.8 641.0 L1076.4 637.2 L1077.0 633.4 L1077.7 629.6 L1078.4 625.9 L1079.0 622.2 L1079.8 618.5 L1080.5 615.0 L1081.2 611.4 L1081.9 607.9 L1082.7 604.5 L1083.3 601.7 L1083.9 598.8 L1084.5 596.1 L1085.1 593.3 L1085.7 590.6 L1086.4 588.0 L1087.0 585.3 L1087.7 582.7 L1088.4 580.1 L1089.1 577.5 L1089.9 575.0 L1090.7 572.4 L1091.5 570.0 L1092.3 567.6 L1093.2 565.2 L1094.1 562.8 L1095.0 560.5 L1095.9 558.1 L1096.8 555.8 L1097.8 553.5 L1098.8 551.2 L1099.8 548.9 L1100.9 546.6 L1101.9 544.3 L1103.0 541.9 L1104.2 539.5 L1105.3 537.1 L1106.5 534.8 L1107.7 532.4 L1109.0 530.0 L1110.2 527.7 L1111.5 525.4 L1112.8 523.0 L1114.1 520.7 L1115.4 518.4 L1116.8 516.2 L1118.2 513.9 L1119.6 511.6 L1121.1 509.3 L1122.6 507.1 L1124.2 504.8 L1125.7 502.6 L1127.3 500.4 L1128.9 498.2 L1130.4 496.1 L1132.0 494.0 L1133.5 492.0 L1135.0 490.0 L1136.3 488.4 L1137.5 486.8 L1138.7 485.3 L1140.0 483.8 L1141.2 482.4 L1142.4 480.9 L1143.6 479.5 L1144.9 478.1 L1146.1 476.7 L1147.4 475.3 L1148.7 473.9 L1150.0 472.5 L1151.4 471.0 L1152.8 469.5 L1154.2 468.0 L1155.6 466.5 L1157.1 464.9 L1158.5 463.4 L1160.0 462.0 L1161.5 460.5 L1163.0 459.1 L1164.5 457.7 L1166.0 456.3 L1167.5 455.0 L1168.9 453.8 L1170.3 452.7 L1171.8 451.5 L1173.2 450.4 L1174.7 449.4 L1176.1 448.3 L1177.6 447.3 L1179.1 446.3 L1180.6 445.3 L1182.0 444.3 L1183.5 443.4 L1185.0 442.5 L1186.4 441.7 L1187.8 440.8 L1189.2 440.0 L1190.6 439.2 L1192.1 438.4 L1193.5 437.7 L1194.9 436.9 L1196.3 436.2 L1197.7 435.6 L1199.2 434.9 L1200.6 434.3 L1202.0 433.8 L1203.3 433.3 L1204.6 432.8 L1205.9 432.4 L1207.1 431.9 L1208.4 431.5 L1209.7 431.2 L1211.0 430.8 L1212.2 430.5 L1213.5 430.2 L1214.8 430.0 L1216.2 429.7 L1217.5 429.5 L1218.9 429.3 L1220.4 429.1 L1221.8 428.9 L1223.3 428.7 L1224.8 428.6 L1226.3 428.5 L1227.8 428.4 L1229.2 428.4 L1230.7 428.4 L1232.2 428.5 L1233.6 428.6 L1235.0 428.8 L1236.3 429.0 L1237.6 429.2 L1238.9 429.6 L1240.3 429.9 L1241.5 430.3 L1242.8 430.8 L1244.1 431.2 L1245.3 431.7 L1246.5 432.2 L1247.7 432.7 L1248.9 433.2 L1250.0 433.8 L1250.9 434.2 L1251.8 434.7 L1252.7 435.2 L1253.6 435.7 L1254.4 436.2 L1255.2 436.7 L1256.0 437.2 L1256.8 437.8 L1257.6 438.3 L1258.4 438.9 L1259.2 439.4 L1260.0 440.0 L1260.8 440.5 L1261.5 441.1 L1262.2 441.6 L1263.0 442.2 L1263.7 442.7 L1264.4 443.2 L1265.1 443.8 L1265.8 444.4 L1266.6 445.0 L1267.3 445.6 L1268.0 446.3 L1268.8 447.0 L1269.7 447.9 L1270.6 448.9 L1271.6 449.9 L1272.5 450.9 L1273.5 452.0 L1274.4 453.1 L1275.4 454.3 L1276.3 455.4 L1277.3 456.6 L1278.2 457.7 L1279.1 458.9 L1280.0 460.0 L1280.9 461.1 L1281.7 462.2 L1282.6 463.4 L1283.4 464.5 L1284.2 465.7 L1285.0 466.8 L1285.8 468.0 L1286.6 469.2 L1287.5 470.3 L1288.3 471.5 L1289.1 472.6 L1290.0 473.8 L1290.9 474.9 L1291.8 476.1 L1292.7 477.3 L1293.7 478.5 L1294.6 479.8 L1295.6 481.0 L1296.5 482.1 L1297.5 483.3 L1298.4 484.4 L1299.4 485.5 L1300.3 486.5 L1301.2 487.5 L1302.0 488.3 L1302.7 489.0 L1303.4 489.7 L1304.1 490.4 L1304.8 491.1 L1305.5 491.7 L1306.2 492.4 L1307.0 492.9 L1307.7 493.5 L1308.4 494.0 L1309.2 494.5 L1310.0 495.0 L1310.8 495.4 L1311.6 495.8 L1312.4 496.1 L1313.3 496.4 L1314.1 496.7 L1315.0 497.0 L1315.8 497.2 L1316.7 497.4 L1317.6 497.6 L1318.4 497.8 L1319.2 497.9 L1320.0 498.0 L1320.7 498.1 L1321.3 498.1 L1321.9 498.1 L1322.6 498.1 L1323.2 498.1 L1323.8 498.1 L1324.4 498.0 L1325.1 497.9 L1325.7 497.9 L1326.3 497.8 L1326.9 497.6 L1327.5 497.5 L1328.1 497.3 L1328.7 497.2 L1329.4 497.0 L1330.0 496.8 L1330.6 496.6 L1331.2 496.3 L1331.8 496.1 L1332.4 495.8 L1333.0 495.5 L1333.7 495.2 L1334.3 494.8 L1335.0 494.5 L1335.9 494.0 L1336.9 493.4 L1337.9 492.7 L1338.9 491.9 L1340.0 491.2 L1341.0 490.4 L1342.1 489.6 L1343.1 488.8 L1344.2 488.1 L1345.3 487.4 L1346.4 486.8 L1347.5 486.2 L1348.6 485.8 L1349.6 485.4 L1350.7 485.0 L1351.8 484.7 L1352.9 484.4 L1354.0 484.1 L1355.2 483.9 L1356.3 483.6 L1357.4 483.3 L1358.5 483.1 L1359.6 482.8 L1360.8 482.5" stroke="#ff0000" stroke-width="3.4"/>
</g>
<path d="M161.0 476.0 l13 13 M161.0 489.0 l13 -13 M196.0 489.0 l13 13 M196.0 502.0 l13 -13 M227.2 471.0 l13 13 M227.2 484.0 l13 -13 M260.5 433.5 l13 13 M260.5 446.5 l13 -13 M293.5 420.2 l13 13 M293.5 433.2 l13 -13 M326.8 426.8 l13 13 M326.8 439.8 l13 -13 M361.0 449.2 l13 13 M361.0 462.2 l13 -13 M393.5 483.5 l13 13 M393.5 496.5 l13 -13 M426.8 547.2 l13 13 M426.8 560.2 l13 -13 M462.2 582.5 l13 13 M462.2 595.5 l13 -13 M494.8 411.0 l13 13 M494.8 424.0 l13 -13 M529.2 367.2 l13 13 M529.2 380.2 l13 -13 M562.2 334.8 l13 13 M562.2 347.8 l13 -13 M596.0 315.2 l13 13 M596.0 328.2 l13 -13 M628.5 319.0 l13 13 M628.5 332.0 l13 -13 M661.0 373.5 l13 13 M661.0 386.5 l13 -13 M694.8 420.6 l13 13 M694.8 433.6 l13 -13 M727.2 312.2 l13 13 M727.2 325.2 l13 -13 M760.0 293.0 l13 13 M760.0 306.0 l13 -13 M794.8 324.7 l13 13 M794.8 337.7 l13 -13 M827.2 466.9 l13 13 M827.2 479.9 l13 -13 M859.8 363.5 l13 13 M859.8 376.5 l13 -13 M893.5 321.5 l13 13 M893.5 334.5 l13 -13 M927.2 321.0 l13 13 M927.2 334.0 l13 -13 M959.8 338.5 l13 13 M959.8 351.5 l13 -13 M993.5 368.0 l13 13 M993.5 381.0 l13 -13 M1027.2 408.5 l13 13 M1027.2 421.5 l13 -13 M1062.9 696.5 l13 13 M1062.9 709.5 l13 -13 M1095.1 538.5 l13 13 M1095.1 551.5 l13 -13 M1128.5 483.5 l13 13 M1128.5 496.5 l13 -13 M1161.0 448.5 l13 13 M1161.0 461.5 l13 -13 M1195.5 427.2 l13 13 M1195.5 440.2 l13 -13 M1228.5 422.2 l13 13 M1228.5 435.2 l13 -13 M1262.2 440.5 l13 13 M1262.2 453.5 l13 -13 M1294.8 481.0 l13 13 M1294.8 494.0 l13 -13 M1328.5 488.0 l13 13 M1328.5 501.0 l13 -13" fill="none" stroke="#ff0000" stroke-width="2"/>
<text x="167.8" y="944.1" font-size="50" text-anchor="middle">-180</text>
<text x="316.9" y="944.1" font-size="50" text-anchor="middle">-135</text>
<text x="466.0" y="944.1" font-size="50" text-anchor="middle">-90</text>
<text x="615.1" y="944.1" font-size="50" text-anchor="middle">-45</text>
<text x="764.2" y="944.1" font-size="50" text-anchor="middle">0</text>
<text x="913.3" y="944.1" font-size="50" text-anchor="middle">45</text>
<text x="1062.4" y="944.1" font-size="50" text-anchor="middle">90</text>
<text x="1211.5" y="944.1" font-size="50" text-anchor="middle">135</text>
<text x="1360.6" y="944.1" font-size="50" text-anchor="middle">180</text>
<text x="152.6" y="201.5" font-size="50" text-anchor="end">20</text>
<text x="152.6" y="300.9" font-size="50" text-anchor="end">10</text>
<text x="152.6" y="400.4" font-size="50" text-anchor="end">0</text>
<text x="152.6" y="499.8" font-size="50" text-anchor="end">-10</text>
<text x="152.6" y="599.2" font-size="50" text-anchor="end">-20</text>
<text x="152.6" y="698.6" font-size="50" text-anchor="end">-30</text>
<text x="152.6" y="798.1" font-size="50" text-anchor="end">-40</text>
<text x="152.6" y="897.5" font-size="50" text-anchor="end">-50</text>
<text x="764" y="1010" font-size="50" text-anchor="middle">Theta [Deg.]</text>
<text transform="translate(37.6 534.5) rotate(-90)" font-size="50" text-anchor="middle">Gain [dBic]</text>
<rect x="178.1" y="1.7" width="1172.2" height="157.8" fill="#fff" stroke="#000" stroke-width="3.6" stroke-linejoin="round"/>
<text x="198.3" y="60" font-size="50" font-style="italic">d</text><text x="223.4" y="71.8" font-size="35">M</text><text x="251.6" y="60" font-size="50">:</text>
<path d="M320.6 45.0 H409.4" stroke="#0a32c8" stroke-width="3.2"/>
<path d="M365.1 29.7 v30.6" stroke="#0a32c8" stroke-width="1.5"/>
<path d="M320.6 115.7 H398" stroke="#0044ff" stroke-width="4" stroke-dasharray="21 14.2 7.2 14.2"/>
<text x="430.1" y="60.0" font-size="50">0.5</text><text class="sym" x="498.4" y="60.0" font-size="52">λ</text><text class="sym" x="524.9" y="74.0" font-size="36.5">0</text>
<text x="430.1" y="130.9" font-size="50">0.9</text><text class="sym" x="498.4" y="130.9" font-size="52">λ</text><text class="sym" x="524.9" y="144.9" font-size="36.5">0</text>
<path d="M698.6 45.0 H788.6" stroke="#000" stroke-width="6"/>
<path d="M698.6 115.7 H788.6" stroke="#4b9a06" stroke-width="4.2" stroke-dasharray="35.6 34.9"/>
<text x="808.9" y="60.0" font-size="50">0.6</text><text class="sym" x="877.4" y="60.0" font-size="52">λ</text><text class="sym" x="903.9" y="74.0" font-size="36.5">0</text>
<text x="808.9" y="130.9" font-size="50">1.05</text><text class="sym" x="904.6" y="130.9" font-size="52">λ</text><text class="sym" x="931.1" y="144.9" font-size="36.5">0</text>
<path d="M1077.8 45.3 H1167.8" stroke="#ff0000" stroke-width="4.3" stroke-dasharray="7.7 6.4"/>
<path d="M1077.8 115.7 H1167.8" stroke="#ff0000" stroke-width="3.8"/>
<path d="M1108.3 101.2 l29 29 M1108.3 130.2 l29 -29" stroke="#ff0000" stroke-width="1.5" fill="none"/>
<text x="1187.5" y="60.0" font-size="50">0.75</text><text class="sym" x="1283.3" y="60.0" font-size="52">λ</text><text class="sym" x="1309.8" y="74.0" font-size="36.5">0</text>
<text x="1187.5" y="130.9" font-size="50">1.20</text><text class="sym" x="1283.3" y="130.9" font-size="52">λ</text><text class="sym" x="1309.8" y="144.9" font-size="36.5">0</text>
</svg></body></html>
